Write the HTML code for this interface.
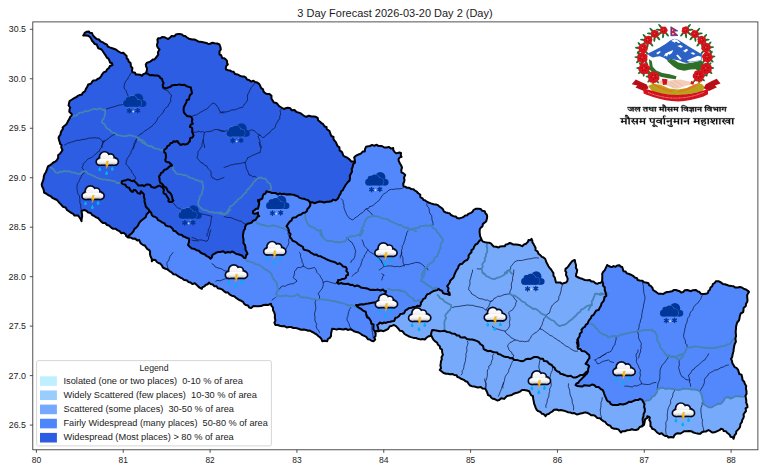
<!DOCTYPE html>
<html><head><meta charset="utf-8"><title>3 Day Forecast</title>
<style>
html,body{margin:0;padding:0;background:#fff;}
body{width:768px;height:473px;overflow:hidden;font-family:"Liberation Sans",sans-serif;}
svg{display:block;}
text{font-family:"Liberation Sans",sans-serif;fill:#1a1a1a;}
</style></head><body>
<svg width="768" height="473" viewBox="0 0 768 473">
<rect width="768" height="473" fill="#fff"/>
<clipPath id="nepal"><path d="M59.0,140.0 L58.6,137.5 L59.5,135.8 L60.5,134.5 L60.8,132.5 L61.5,130.8 L62.9,129.0 L62.6,127.4 L64.5,125.8 L66.2,124.5 L67.1,123.1 L68.2,120.8 L69.4,118.9 L70.2,116.8 L71.5,115.8 L71.7,113.9 L69.3,111.8 L69.5,109.5 L70.2,107.5 L68.6,105.5 L69.0,103.2 L69.6,101.0 L72.0,99.5 L74.2,98.1 L76.5,97.0 L77.9,95.8 L79.9,94.9 L82.0,94.5 L82.7,92.8 L85.1,91.2 L85.8,89.0 L87.1,87.1 L88.2,84.5 L90.9,83.8 L92.0,82.0 L93.3,80.4 L96.0,80.3 L97.5,79.0 L99.5,78.1 L101.1,76.3 L102.0,74.5 L103.5,72.5 L106.1,71.4 L107.0,69.5 L108.9,68.0 L109.9,66.0 L112.5,65.0 L112.0,63.3 L110.0,62.5 L109.5,60.8 L108.5,58.7 L106.8,57.6 L105.8,55.8 L104.4,53.6 L103.3,52.0 L102.0,50.0 L100.8,49.1 L98.3,48.2 L97.5,46.5 L96.7,44.4 L94.8,44.0 L93.1,41.9 L92.0,40.8 L91.1,38.7 L90.2,37.2 L88.2,35.8 L85.3,35.6 L83.2,35.5 L84.1,34.2 L84.8,32.8 L86.8,31.7 L89.0,31.5 L89.7,32.8 L92.0,33.0 L93.0,35.5 L94.5,37.0 L96.6,39.0 L99.0,39.5 L100.5,41.3 L102.5,42.2 L104.5,43.5 L107.0,44.6 L107.8,46.5 L109.7,47.4 L112.2,48.2 L114.5,49.0 L116.2,49.7 L117.9,51.1 L119.5,52.0 L121.2,53.0 L123.3,52.7 L125.0,54.5 L126.6,55.9 L126.7,58.4 L128.2,59.5 L128.7,61.7 L130.5,62.9 L130.8,64.5 L130.8,66.3 L132.4,68.0 L132.0,70.8 L132.7,72.2 L135.1,72.8 L135.8,74.5 L137.5,74.5 L140.1,74.7 L142.0,75.8 L143.3,74.1 L145.8,73.2 L146.8,70.9 L147.0,68.2 L146.1,66.5 L145.8,64.5 L147.0,62.6 L149.5,62.0 L150.8,61.2 L152.8,59.5 L154.5,59.5 L155.6,58.1 L157.3,56.0 L158.2,54.5 L157.9,52.2 L159.5,49.5 L158.0,47.9 L157.2,46.3 L157.0,44.5 L157.8,42.4 L157.4,39.8 L158.2,38.2 L160.3,38.2 L162.0,37.0 L164.4,37.2 L166.3,38.2 L168.2,39.0 L170.1,37.5 L171.4,36.1 L174.6,36.2 L175.8,34.5 L178.2,34.1 L180.3,34.1 L182.0,34.5 L183.4,35.9 L185.2,35.9 L187.0,37.5 L188.9,38.7 L192.3,39.5 L194.5,39.5 L196.0,40.2 L198.5,41.6 L200.0,41.7 L202.0,42.0 L204.0,42.4 L206.5,42.9 L208.2,44.0 L210.0,43.7 L212.5,42.7 L214.5,43.2 L217.1,43.5 L219.5,44.5 L220.5,47.3 L220.8,49.5 L219.5,51.4 L219.5,54.5 L221.2,55.2 L222.1,57.9 L224.0,58.2 L225.5,59.1 L227.0,60.8 L227.1,63.0 L227.8,64.5 L226.4,65.8 L225.8,67.8 L226.0,69.5 L228.3,70.3 L230.0,70.4 L231.5,71.5 L233.6,71.7 L235.1,74.1 L237.8,74.5 L239.8,75.7 L241.6,76.4 L244.0,76.5 L245.7,77.3 L247.0,79.5 L249.0,80.0 L251.2,81.6 L253.4,80.7 L255.2,82.0 L257.0,82.4 L259.3,84.1 L260.2,85.8 L261.2,88.2 L263.1,89.4 L263.5,91.6 L265.2,93.2 L267.0,94.1 L269.5,94.1 L271.5,95.8 L271.4,98.5 L272.8,100.8 L273.9,102.6 L276.6,103.1 L277.8,104.5 L279.1,106.2 L281.4,107.5 L284.0,109.0 L286.4,108.0 L287.8,107.7 L290.2,108.2 L291.8,110.3 L294.5,110.0 L296.5,112.0 L298.8,112.6 L300.9,113.4 L302.6,114.8 L304.0,115.8 L306.2,116.8 L309.0,115.8 L311.5,116.5 L313.9,116.4 L315.5,116.7 L317.8,118.2 L318.1,120.3 L320.1,121.7 L321.5,123.2 L323.0,124.0 L324.7,126.6 L326.5,127.0 L326.8,129.2 L329.5,131.0 L330.2,133.2 L331.2,135.8 L333.5,137.0 L333.4,138.7 L334.0,140.0 L335.6,141.8 L336.5,143.6 L337.5,146.0 L339.4,147.3 L339.6,150.3 L341.8,151.8 L342.7,153.7 L343.2,155.5 L345.0,156.8 L346.7,157.4 L348.8,158.8 L350.0,160.0 L351.2,161.4 L353.5,161.4 L355.0,162.5 L354.8,159.9 L354.2,157.5 L355.3,156.3 L357.0,155.1 L359.2,154.2 L360.8,153.6 L362.7,151.6 L364.8,151.5 L365.1,148.8 L366.0,146.8 L368.3,146.3 L370.0,146.0 L372.1,144.9 L374.2,145.8 L376.8,144.8 L378.7,146.1 L381.8,146.0 L383.7,147.1 L384.7,147.5 L386.8,147.5 L389.0,146.9 L390.8,148.6 L393.2,148.0 L393.3,150.2 L395.0,152.5 L396.5,153.4 L399.4,152.5 L401.0,153.0 L400.7,155.3 L401.5,156.8 L399.4,157.7 L398.5,159.2 L398.8,161.2 L400.0,163.5 L401.0,165.2 L402.0,167.5 L401.3,170.1 L401.5,172.5 L403.3,173.1 L405.2,175.0 L404.0,177.7 L404.5,180.0 L404.1,182.0 L403.2,183.8 L403.5,186.0 L405.2,186.6 L407.0,187.8 L408.8,187.7 L411.2,189.0 L413.5,189.2 L414.8,190.5 L416.8,191.7 L418.5,193.5 L420.2,194.5 L420.4,197.1 L422.5,198.3 L423.5,200.0 L425.0,200.2 L426.8,201.7 L428.5,202.5 L430.9,203.4 L433.6,204.2 L436.0,204.5 L437.9,205.1 L439.1,206.3 L441.0,207.5 L442.8,209.1 L444.1,211.7 L446.0,212.5 L448.0,213.0 L449.4,213.2 L451.0,215.0 L453.4,216.2 L455.7,216.5 L457.2,218.0 L459.3,218.4 L461.8,217.6 L463.5,217.0 L465.2,215.6 L467.2,215.2 L468.5,213.8 L470.9,212.8 L472.4,211.9 L473.5,210.0 L475.6,208.8 L478.5,208.8 L480.8,209.1 L482.1,210.7 L484.8,211.2 L485.4,213.3 L486.7,214.5 L487.2,216.2 L486.9,218.8 L486.2,221.2 L484.8,222.5 L483.0,223.9 L482.4,226.4 L481.0,227.5 L479.8,229.1 L479.6,231.9 L479.8,233.8 L480.1,236.1 L481.1,238.3 L481.5,240.0 L483.0,241.6 L485.0,242.2 L487.2,242.5 L489.1,242.7 L491.2,243.7 L492.2,245.0 L493.7,246.5 L496.3,246.8 L498.5,247.5 L500.3,246.4 L502.8,246.2 L504.8,246.2 L505.7,244.5 L507.6,244.2 L509.8,243.0 L511.9,243.8 L513.5,244.6 L516.0,244.5 L518.2,244.7 L520.4,245.3 L522.2,246.2 L524.0,244.5 L526.0,243.8 L527.9,241.9 L528.5,240.0 L530.4,240.2 L531.5,238.8 L532.3,240.7 L532.4,242.3 L533.5,243.8 L534.3,245.6 L535.6,248.0 L535.5,250.0 L537.7,251.6 L538.5,253.8 L540.5,255.3 L541.9,256.9 L543.5,257.5 L545.3,259.0 L546.0,261.2 L546.6,262.8 L547.6,264.5 L548.5,266.2 L549.4,267.6 L551.1,269.5 L552.2,271.2 L553.4,273.1 L553.5,275.8 L554.8,277.5 L555.4,280.1 L556.0,282.5 L557.9,282.6 L560.1,282.4 L562.2,283.8 L564.3,282.9 L565.9,282.6 L567.2,281.2 L567.7,279.0 L567.1,277.0 L566.0,275.0 L566.3,272.4 L565.3,271.2 L565.5,268.8 L567.2,267.7 L568.5,266.2 L569.3,264.8 L570.8,262.8 L572.2,261.2 L573.7,260.3 L574.8,260.0 L575.3,262.8 L576.0,265.0 L575.9,267.9 L577.2,270.0 L576.8,272.3 L576.1,274.3 L576.0,276.2 L577.9,277.3 L580.2,278.2 L582.2,278.8 L584.9,280.0 L587.4,280.3 L589.8,280.0 L591.4,281.5 L593.4,281.5 L595.5,283.3 L597.2,283.8 L598.7,283.1 L600.9,282.7 L602.2,281.2 L602.2,279.2 L602.3,276.0 L602.2,273.8 L603.3,271.7 L604.8,270.1 L606.0,267.5 L606.8,265.9 L607.2,265.0 L608.7,266.0 L610.5,266.7 L612.2,267.0 L613.5,266.1 L615.6,266.8 L617.2,265.5 L619.4,265.3 L620.5,266.5 L622.2,267.0 L622.9,269.3 L623.5,271.2 L625.6,271.6 L626.9,273.4 L628.5,273.8 L630.9,274.7 L633.0,275.8 L634.8,277.5 L637.0,278.1 L637.6,280.0 L639.8,280.5 L642.4,280.8 L644.1,282.3 L646.0,282.5 L648.5,283.3 L649.1,285.1 L651.0,286.2 L652.5,288.0 L652.9,289.7 L654.8,291.2 L656.4,292.2 L658.5,293.7 L661.0,293.8 L663.5,293.9 L665.0,292.8 L667.2,292.0 L669.4,291.7 L672.2,291.2 L674.1,289.9 L676.0,290.0 L678.0,290.7 L679.7,291.3 L681.0,292.5 L683.1,292.1 L684.8,290.2 L687.2,290.0 L688.8,290.5 L691.0,291.2 L692.9,290.2 L696.0,290.0 L697.9,291.6 L699.3,291.8 L701.0,293.8 L703.8,294.1 L706.0,293.8 L707.9,293.0 L708.5,290.8 L709.8,290.0 L710.5,287.6 L712.2,286.2 L712.8,284.2 L714.7,283.0 L716.0,281.2 L718.4,281.2 L721.0,282.5 L722.8,283.9 L724.9,284.2 L727.2,285.0 L729.1,285.8 L731.8,286.1 L733.5,286.2 L735.0,287.4 L737.9,287.4 L739.8,287.0 L741.9,287.5 L744.2,289.0 L746.0,289.5 L747.9,290.8 L749.0,292.0 L748.0,293.4 L747.2,295.0 L747.2,297.5 L747.5,299.9 L747.3,301.7 L746.0,303.8 L745.8,306.1 L743.6,308.0 L743.5,310.0 L743.2,312.2 L740.7,313.5 L739.8,316.2 L739.5,318.2 L739.0,320.3 L737.2,322.5 L736.5,324.8 L736.0,326.9 L736.0,328.8 L735.7,331.1 L735.8,334.2 L736.0,336.2 L735.4,338.5 L735.9,341.8 L734.8,343.8 L734.2,346.1 L733.7,348.8 L733.5,351.2 L733.0,352.7 L732.5,355.0 L732.1,357.4 L731.0,358.8 L732.0,360.9 L732.4,363.3 L733.5,365.0 L734.6,367.0 L736.7,368.2 L738.0,369.6 L738.5,371.2 L739.3,374.0 L741.5,374.6 L742.2,377.5 L742.5,379.8 L744.3,382.0 L744.8,383.8 L746.2,386.1 L745.9,388.4 L746.5,391.2 L746.5,394.0 L745.5,395.8 L746.0,398.8 L746.3,400.5 L746.2,402.6 L747.2,405.0 L747.5,407.1 L745.6,408.4 L746.0,411.1 L744.8,412.5 L743.5,414.5 L743.9,416.3 L743.3,418.3 L742.2,420.0 L742.0,421.8 L740.4,424.0 L740.3,425.2 L739.8,427.5 L738.3,429.4 L736.3,431.4 L736.0,433.8 L734.5,435.3 L734.1,437.4 L733.5,438.8 L732.8,437.2 L730.6,436.8 L729.8,435.0 L728.8,434.0 L727.0,432.7 L726.0,431.2 L723.7,431.1 L723.0,429.4 L721.0,428.8 L719.5,430.2 L717.2,431.2 L714.6,432.3 L712.2,432.5 L710.4,431.2 L708.5,430.0 L706.2,431.4 L704.6,431.6 L702.2,432.0 L700.3,433.8 L698.5,433.8 L695.6,433.1 L693.5,432.5 L691.1,431.2 L689.1,431.0 L687.2,431.2 L684.3,431.2 L682.2,432.5 L680.3,433.6 L677.6,433.3 L676.0,433.8 L674.2,435.5 L673.5,437.5 L671.1,437.0 L668.5,437.5 L667.1,435.9 L665.1,436.0 L663.5,435.0 L661.7,433.3 L659.4,434.0 L657.2,432.5 L655.7,430.9 L654.6,429.6 L652.2,428.8 L651.4,426.9 L650.4,426.1 L650.5,423.8 L650.4,421.9 L649.3,419.9 L649.8,417.5 L648.6,416.6 L647.2,416.2 L647.3,417.9 L644.9,419.4 L644.8,421.2 L644.3,423.5 L644.0,424.9 L642.2,426.2 L639.7,427.0 L638.0,429.3 L636.0,430.0 L633.6,429.8 L631.9,429.3 L629.8,430.0 L627.1,430.3 L624.8,431.2 L622.3,431.2 L621.0,432.5 L619.4,430.7 L618.4,429.4 L616.0,428.8 L614.2,428.8 L611.7,427.9 L610.3,425.8 L608.0,425.0 L606.5,423.8 L605.1,421.8 L603.8,421.4 L601.8,420.0 L600.0,418.2 L597.4,418.1 L595.5,416.2 L594.0,415.3 L591.2,415.3 L589.2,413.8 L587.0,412.7 L585.1,412.4 L583.0,413.0 L580.8,413.4 L578.8,414.0 L576.8,414.5 L574.4,413.1 L572.4,413.3 L570.5,412.5 L568.1,412.2 L565.4,411.1 L563.0,410.5 L560.5,410.0 L558.6,410.4 L556.8,409.5 L554.1,409.7 L552.6,411.3 L550.5,412.5 L548.6,414.1 L546.6,414.5 L545.5,416.2 L543.7,414.1 L541.8,413.8 L540.6,412.0 L538.2,411.1 L536.8,410.0 L535.6,407.8 L535.1,406.0 L534.2,403.8 L533.8,401.6 L533.2,398.9 L533.0,396.2 L531.2,395.4 L529.9,392.9 L529.2,391.2 L527.0,390.5 L524.2,390.0 L522.0,389.9 L519.9,391.7 L518.0,392.5 L515.8,393.0 L513.7,393.7 L511.8,395.0 L509.5,395.5 L507.1,395.9 L505.5,397.5 L504.0,398.9 L501.2,398.2 L499.2,400.0 L497.2,400.5 L494.7,399.1 L493.0,398.8 L491.0,397.5 L490.4,396.0 L488.0,395.0 L487.2,392.4 L486.4,390.8 L485.5,388.8 L482.5,388.6 L481.0,387.1 L478.0,387.5 L476.0,387.0 L474.3,386.4 L471.8,386.2 L470.1,385.5 L468.4,383.6 L467.3,381.8 L465.5,381.2 L463.9,379.9 L461.1,378.8 L459.2,377.5 L457.4,377.0 L456.6,375.3 L454.2,375.0 L452.7,374.0 L449.7,374.3 L448.0,373.8 L446.0,373.8 L443.6,373.0 L441.4,371.2 L439.8,370.0 L441.0,368.1 L440.4,365.3 L440.7,363.7 L441.0,361.2 L441.8,359.3 L441.5,357.3 L442.9,354.7 L442.2,352.5 L442.0,349.7 L440.2,348.5 L439.8,346.2 L437.8,344.5 L437.1,342.6 L434.8,341.2 L433.0,339.2 L432.3,337.5 L431.0,335.0 L430.0,336.2 L428.5,336.2 L426.2,338.0 L424.8,339.5 L422.5,339.0 L420.3,339.4 L417.9,338.8 L416.0,338.0 L413.7,337.9 L411.0,337.1 L408.5,336.2 L406.6,335.2 L404.5,334.0 L403.5,332.5 L402.0,330.9 L399.8,330.8 L398.5,328.8 L396.9,327.1 L395.2,325.6 L393.5,325.0 L391.7,326.0 L389.8,326.2 L389.0,327.5 L387.9,329.1 L386.0,330.0 L383.6,331.2 L380.9,330.5 L378.5,331.2 L376.9,330.9 L374.8,331.2 L375.7,333.7 L375.5,336.2 L374.2,337.6 L375.2,339.5 L373.5,341.2 L371.4,340.7 L369.8,339.5 L367.9,339.2 L366.2,336.8 L364.8,336.2 L362.4,335.2 L361.0,334.0 L358.5,332.5 L356.6,332.1 L353.9,331.2 L352.2,330.0 L350.7,329.3 L347.7,329.9 L346.0,328.8 L343.7,329.5 L341.4,329.2 L338.5,328.8 L336.8,329.6 L333.9,328.9 L332.2,328.8 L331.6,331.0 L331.1,333.5 L331.0,336.2 L329.8,337.8 L327.9,339.0 L327.2,341.2 L324.6,340.7 L322.2,341.2 L321.5,339.1 L320.4,337.6 L318.5,336.2 L316.9,334.7 L315.1,333.7 L313.5,332.5 L311.7,331.8 L309.9,330.5 L308.3,330.7 L306.0,330.0 L303.8,329.6 L301.0,329.7 L298.5,328.8 L296.3,328.1 L293.4,328.0 L291.0,327.0 L288.9,326.9 L286.7,327.4 L284.4,326.1 L282.2,326.2 L279.7,325.7 L277.7,325.0 L275.5,325.0 L274.4,322.8 L275.4,320.3 L274.8,317.5 L275.0,315.2 L274.3,312.6 L273.0,310.0 L272.9,307.4 L271.3,305.6 L271.0,303.8 L268.3,304.9 L266.1,304.8 L263.5,305.0 L261.0,306.1 L258.4,306.3 L256.0,306.2 L253.5,306.1 L251.2,308.1 L249.2,307.5 L248.0,305.5 L245.7,305.1 L244.2,303.8 L243.1,301.9 L241.2,300.8 L239.2,300.0 L237.2,298.6 L235.7,297.6 L234.2,296.2 L231.8,295.7 L229.5,294.4 L228.0,292.5 L226.1,292.6 L224.2,291.4 L222.5,289.7 L220.5,288.8 L217.8,288.2 L216.5,286.3 L214.2,286.2 L212.7,284.4 L210.4,284.0 L209.2,282.5 L207.6,284.2 L205.5,285.0 L204.7,286.2 L202.3,287.4 L201.8,288.8 L199.6,287.6 L198.1,286.4 L196.8,285.0 L194.8,283.2 L192.3,284.1 L190.5,282.5 L188.5,282.0 L186.6,280.3 L184.2,280.0 L182.3,278.4 L180.5,277.7 L178.0,276.2 L175.8,274.5 L173.4,274.2 L171.8,272.5 L169.8,271.3 L167.4,269.4 L165.5,268.8 L162.9,267.5 L161.8,265.3 L160.5,263.8 L158.3,262.9 L156.8,262.0 L155.5,260.0 L153.2,259.8 L151.8,261.2 L151.7,258.7 L150.5,256.2 L150.0,254.2 L150.1,251.8 L149.2,250.0 L147.4,249.2 L146.1,247.4 L144.8,245.4 L143.0,245.0 L141.3,243.8 L140.2,242.5 L139.2,240.0 L137.3,240.4 L135.0,238.6 L133.0,238.8 L130.8,237.6 L128.0,237.5 L126.1,236.0 L125.8,234.5 L123.6,232.7 L121.2,233.2 L119.5,231.2 L117.3,230.1 L115.6,228.8 L113.2,228.8 L111.5,227.9 L109.0,225.5 L107.0,225.0 L105.2,223.0 L102.9,222.9 L100.8,221.2 L99.2,219.3 L98.4,218.3 L96.2,217.4 L94.5,216.2 L92.1,215.0 L90.6,212.9 L88.2,212.5 L86.4,210.8 L84.5,210.0 L82.9,210.4 L81.5,211.2 L82.0,214.0 L82.2,216.4 L81.7,218.8 L81.5,221.2 L80.7,219.3 L79.5,217.5 L78.1,215.6 L74.5,215.6 L73.2,213.8 L71.2,212.9 L68.9,211.3 L67.0,210.0 L65.6,207.5 L63.1,206.9 L61.5,205.0 L59.9,203.4 L58.6,202.0 L57.0,200.0 L54.9,199.0 L52.3,197.8 L50.8,196.2 L48.7,195.4 L46.0,193.5 L44.0,192.5 L43.8,190.1 L43.1,188.3 L42.0,186.2 L41.7,184.3 L42.5,182.2 L43.2,180.0 L43.7,178.4 L43.8,176.3 L44.7,173.9 L45.8,172.5 L46.5,170.7 L47.4,168.0 L48.2,166.2 L50.2,165.1 L52.0,163.8 L53.3,162.5 L55.2,161.7 L57.0,160.0 L58.1,158.0 L58.2,155.0 L60.0,153.7 L61.4,151.8 L62.5,150.0 L61.3,147.6 L61.5,145.0 L60.1,143.9 L59.7,141.9Z"/></clipPath>
<g clip-path="url(#nepal)">
<rect x="30" y="20" width="730" height="430" fill="#5288fb"/>
<path d="M128.2,236.2 L130.1,234.5 L131.9,233.2 L133.4,231.4 L134.5,228.8 L136.2,227.7 L138.0,225.6 L138.8,223.5 L140.2,221.6 L142.0,220.0 L143.7,218.8 L145.8,217.0 L146.6,214.3 L148.0,213.1 L149.6,211.2 L151.2,212.8 L151.8,215.1 L153.0,216.2 L155.0,216.9 L156.9,218.0 L158.1,220.2 L160.5,221.2 L162.1,222.4 L164.4,223.4 L165.9,225.6 L168.0,226.2 L170.2,226.6 L172.4,228.4 L173.5,230.7 L175.5,231.2 L177.2,233.1 L179.0,234.6 L181.7,234.8 L183.0,236.2 L185.3,237.1 L187.1,238.0 L189.2,238.8 L189.1,240.8 L188.8,242.6 L188.0,245.0 L190.0,246.9 L191.8,248.4 L194.2,248.8 L196.5,250.2 L198.9,250.7 L200.5,252.5 L202.4,253.5 L205.0,254.5 L206.8,256.2 L208.9,257.1 L210.5,258.8 L211.9,257.3 L212.4,255.0 L214.2,253.8 L216.0,252.8 L218.1,252.1 L220.5,252.0 L223.1,251.2 L225.4,252.9 L228.0,252.0 L230.5,252.6 L231.9,251.4 L234.2,252.5 L236.4,254.0 L238.0,254.3 L240.5,255.0 L242.6,256.0 L243.7,257.8 L245.5,258.0 L246.1,255.3 L247.5,253.8 L246.5,251.5 L245.4,249.4 L245.5,247.5 L245.0,245.2 L243.6,243.4 L243.5,241.2 L243.5,239.1 L242.9,236.9 L243.0,235.0 L243.3,233.0 L243.8,230.5 L245.0,228.8 L245.1,227.0 L246.0,224.9 L247.5,223.8 L249.7,223.2 L251.8,222.5 L253.1,220.6 L255.5,220.0 L256.3,218.8 L257.7,216.5 L259.2,216.2 L258.0,214.8 L258.0,212.5 L256.2,213.6 L254.2,213.8 L252.9,212.9 L253.0,211.2 L254.8,210.0 L255.8,208.8 L258.0,208.8 L258.7,205.8 L259.2,203.8 L258.7,201.9 L258.0,200.0 L258.1,201.2 L259.0,202.5 L259.5,200.0 L262.3,198.5 L262.8,196.2 L263.7,194.2 L265.6,193.5 L266.5,191.2 L268.0,191.9 L269.8,191.9 L271.5,193.0 L273.6,192.9 L275.8,193.1 L277.8,194.5 L280.0,193.4 L281.5,194.2 L284.0,193.8 L286.2,194.5 L289.1,194.2 L291.5,194.5 L293.5,194.7 L295.4,195.5 L297.8,196.2 L299.2,197.6 L301.4,198.4 L304.0,198.8 L306.2,199.6 L308.3,200.3 L310.2,202.5 L312.3,202.2 L314.9,203.2 L316.5,202.5 L319.0,201.6 L321.8,201.8 L324.0,202.5 L326.8,201.7 L328.7,201.8 L331.5,201.2 L333.0,199.6 L335.6,200.4 L337.8,198.8 L338.6,197.2 L339.5,195.0 L340.5,193.8 L341.1,191.6 L343.0,190.0 L343.5,188.5 L344.8,186.5 L345.6,185.0 L346.8,183.5 L348.2,181.7 L349.4,180.9 L350.0,178.5 L349.8,175.8 L351.0,173.5 L352.1,171.6 L351.7,169.0 L352.5,167.5 L352.8,166.0 L353.2,164.2 L355.0,162.5 L354.0,0.0 L0.0,0.0 L0.0,262.0 L120.0,262.0Z" fill="#2c5de2"/>
<path d="M481.5,240.0 L479.8,240.3 L478.6,241.9 L477.2,243.8 L475.5,244.5 L474.1,246.8 L473.5,248.8 L471.4,250.4 L471.5,252.3 L469.8,253.8 L468.6,255.5 L468.6,257.8 L467.2,260.0 L464.9,260.9 L463.8,261.9 L462.2,263.8 L459.9,264.3 L458.5,266.2 L458.1,268.1 L457.1,269.3 L456.0,271.2 L455.1,273.2 L454.1,275.7 L453.5,277.5 L452.1,278.9 L450.2,280.8 L449.8,282.5 L448.3,284.7 L447.2,286.2 L448.5,288.3 L448.0,291.2 L449.6,293.2 L449.8,295.0 L447.1,294.0 L444.8,293.8 L442.8,292.8 L442.2,290.9 L439.8,290.0 L438.5,288.8 L437.3,290.1 L434.5,290.8 L432.9,291.4 L431.0,292.5 L429.6,293.6 L427.3,294.2 L426.0,296.2 L425.3,298.1 L423.1,299.1 L422.2,301.2 L420.8,302.4 L420.9,304.3 L419.8,306.2 L417.3,305.8 L416.0,306.8 L413.5,307.0 L411.5,307.8 L408.7,308.2 L407.2,309.5 L405.4,310.4 L404.2,313.2 L402.2,313.8 L400.3,314.1 L398.9,316.2 L397.2,317.5 L395.4,317.8 L394.2,320.9 L392.2,321.2 L390.2,321.7 L387.9,321.9 L386.0,323.0 L384.2,322.5 L382.2,323.5 L379.8,322.5 L378.6,324.1 L377.2,325.0 L378.1,327.3 L378.5,330.0 L378.5,470.0 L642.0,470.0 L642.2,426.2 L643.2,424.0 L642.8,421.7 L642.6,418.8 L643.5,416.2 L643.6,414.0 L644.8,411.7 L644.8,408.8 L644.1,406.8 L644.5,404.1 L643.5,402.5 L642.1,399.8 L640.0,398.8 L637.9,400.1 L635.5,400.0 L633.0,401.2 L631.2,402.0 L629.2,401.7 L627.3,403.0 L625.5,403.8 L623.0,404.5 L620.1,404.0 L618.0,405.0 L615.6,404.9 L612.5,404.9 L610.5,403.8 L609.8,402.0 L607.7,401.3 L606.8,400.0 L606.0,398.2 L605.0,395.9 L604.2,393.8 L603.6,391.9 L602.8,390.2 L600.5,388.8 L598.5,386.9 L596.2,387.0 L594.2,385.0 L591.9,384.6 L589.4,385.8 L586.8,385.5 L584.0,385.3 L582.2,386.6 L579.2,386.2 L577.5,386.0 L575.5,385.0 L576.6,383.4 L578.5,382.7 L579.2,381.2 L581.0,379.6 L582.6,377.9 L584.2,376.2 L585.9,374.5 L587.1,373.4 L588.0,371.2 L588.0,371.2 L588.2,368.5 L589.2,366.2 L587.7,364.7 L585.5,363.8 L587.0,362.0 L588.0,360.0 L589.5,358.0 L589.2,355.0 L587.3,353.7 L586.4,352.5 L584.2,351.2 L581.7,351.1 L580.5,349.0 L578.0,348.8 L577.5,346.7 L577.8,344.6 L576.8,342.5 L577.6,341.7 L578.0,340.0 L578.2,342.2 L578.4,343.7 L578.5,346.2 L577.3,344.1 L578.0,342.3 L577.2,340.0 L578.2,338.4 L579.6,336.4 L579.8,333.8 L581.8,332.0 L581.5,329.6 L583.5,327.5 L585.1,326.6 L585.7,324.8 L587.6,323.6 L588.5,321.2 L589.7,319.4 L590.7,318.4 L591.7,315.8 L593.5,315.0 L594.7,312.9 L596.3,310.5 L598.6,310.1 L599.8,307.5 L600.9,305.9 L601.5,303.4 L603.5,301.2 L604.2,299.2 L604.4,297.1 L606.3,295.8 L606.0,293.8 L605.2,291.4 L604.7,289.9 L604.8,287.5 L603.0,285.6 L603.2,283.6 L602.2,281.2 L596.0,262.0 L500.0,200.0 L490.0,232.0Z" fill="#78aafc"/>
<path d="M643.5,402.5 L645.6,401.7 L647.3,400.6 L649.3,399.4 L651.0,398.8 L652.3,397.1 L654.0,395.3 L656.0,393.8 L656.4,391.3 L657.2,388.8 L659.2,388.0 L661.4,388.0 L663.5,388.0 L665.8,387.9 L668.6,388.1 L671.0,388.8 L673.7,389.1 L675.9,389.9 L678.5,390.0 L681.1,389.1 L683.5,389.5 L686.0,388.8 L688.4,389.2 L691.1,389.8 L693.5,389.5 L695.8,390.5 L697.8,390.4 L699.8,391.2 L700.4,393.6 L701.5,395.2 L702.2,397.5 L702.5,399.4 L702.8,401.4 L703.5,403.8 L705.6,404.9 L707.9,405.9 L709.8,407.5 L711.8,406.7 L714.3,406.2 L716.0,405.0 L718.1,404.7 L719.9,402.8 L722.2,402.5 L723.2,400.5 L724.4,399.2 L726.0,397.5 L728.0,397.4 L730.1,398.1 L732.2,398.0 L734.4,397.2 L736.1,396.4 L738.5,396.2 L741.2,396.2 L743.2,395.3 L746.0,395.5 L770.0,395.0 L770.0,470.0 L636.0,470.0Z" fill="#78aafc"/>
</g>
<g clip-path="url(#nepal)" fill="none" stroke-linejoin="round" stroke-linecap="round">
<g stroke="#0a1438" stroke-opacity="0.85" stroke-width="0.85">
<path d="M299.5,252.5 L300.6,254.2 L300.5,256.5 L301.1,258.2 L302.0,260.0 L302.0,262.2 L303.4,264.0 L303.2,266.2 L300.6,267.5 L298.2,267.5 L296.7,268.3 L295.8,270.3 L294.5,271.2 L294.5,273.2 L294.1,275.4 L293.2,277.5 L294.6,279.1 L296.2,279.9 L297.0,281.2 L294.9,282.6 L293.2,283.8 L291.3,283.7 L289.3,284.3 L287.0,285.0 L285.2,286.3 L282.7,286.0 L280.8,287.0 L279.7,288.9 L278.2,290.0"/>
<path d="M303.2,266.2 L305.1,267.1 L307.4,268.6 L309.5,268.8 L312.1,268.1 L314.5,267.5 L315.6,268.8 L316.5,270.8 L317.0,272.5 L318.7,274.2 L319.8,275.3 L320.8,277.5 L322.1,279.1 L322.6,280.7 L323.2,282.5 L325.1,281.6 L327.0,281.2 L328.7,281.7 L330.8,282.5 L333.1,283.0 L335.8,283.8"/>
<path d="M323.2,282.5 L323.3,284.7 L322.8,286.9 L322.0,288.8 L320.7,290.3 L319.4,292.0 L318.2,293.8 L319.5,296.1 L319.5,298.8"/>
<path d="M315.8,300.0 L315.1,302.5 L315.5,305.2 L315.8,307.5 L315.7,309.8 L314.8,312.2 L314.5,315.0 L315.1,317.7 L314.8,319.8 L315.8,322.5 L316.7,324.3 L316.1,326.4 L317.0,328.8 L318.4,330.2 L319.5,332.5"/>
<path d="M350.8,307.5 L349.3,309.6 L348.9,311.4 L348.2,313.8 L348.0,316.0 L347.1,317.5 L347.0,320.0 L348.3,322.2 L349.2,324.1 L349.5,326.2 L351.0,328.1 L352.0,330.0"/>
<path d="M365.8,311.2 L366.1,313.0 L367.2,315.0 L368.2,316.2 L369.4,318.0 L370.0,319.3 L370.8,321.2 L371.3,323.6 L371.8,325.7 L371.8,327.6 L372.0,330.0 L372.5,332.4 L372.9,335.2 L373.2,337.5"/>
<path d="M272.0,300.0 L274.2,298.6 L275.8,297.0"/>
<path d="M212.0,263.8 L213.9,264.8 L215.0,266.8 L217.0,267.5 L219.0,268.3 L221.6,268.8 L223.2,270.0 L224.9,270.9 L227.0,271.2"/>
<path d="M215.8,281.2 L217.9,280.3 L219.9,280.9 L222.0,280.0 L223.8,279.3 L225.9,278.7 L228.2,278.8"/>
<path d="M362.0,240.0 L363.1,242.0 L363.5,243.9 L364.5,246.2 L366.0,247.7 L367.0,248.8 L368.2,250.0 L366.7,251.4 L365.9,253.7 L364.5,255.0 L364.0,257.5 L362.4,259.0 L362.0,261.2 L361.3,263.1 L360.7,265.7 L359.5,267.5 L358.4,269.1 L358.2,271.2 L357.0,272.5 L354.8,273.4 L353.6,274.8 L352.0,276.2"/>
<path d="M368.2,250.0 L369.5,251.7 L371.2,252.7 L373.2,253.8 L374.8,254.9 L376.3,256.1 L378.2,257.5 L379.5,259.0 L381.4,260.6 L382.0,262.5"/>
<path d="M347.0,237.5 L348.2,239.3 L349.9,241.2 L352.0,242.5 L353.1,244.7 L354.2,246.5 L354.8,248.9 L355.8,251.2 L355.1,253.2 L355.1,255.3 L354.5,257.5 L353.5,259.5 L351.6,260.4 L350.8,262.5"/>
<path d="M192.0,237.5 L194.0,238.1 L195.8,238.9 L197.6,239.9 L199.5,240.0 L201.9,240.0 L204.4,240.8 L207.0,241.2 L208.4,239.3 L208.6,237.2 L209.5,235.0 L209.8,232.3 L210.8,230.0"/>
<path d="M287.0,230.0 L288.3,231.9 L287.9,233.5 L288.8,235.5 L289.5,237.5 L288.6,240.1 L288.9,242.6 L288.2,245.0 L287.1,247.0 L285.9,249.2 L284.5,251.2"/>
<path d="M472.5,270.0 L472.5,271.9 L471.5,274.0 L471.2,276.2 L470.7,278.1 L469.8,280.4 L470.0,282.5 L469.9,284.8 L468.7,287.7 L468.8,290.0 L470.4,291.3 L471.8,294.0 L473.8,295.0 L475.6,296.1 L478.0,297.9 L480.0,298.8 L482.5,298.9 L485.1,300.1 L487.5,300.0 L489.3,301.2 L491.2,301.2"/>
<path d="M491.2,301.2 L493.0,300.5 L493.9,298.5 L496.3,297.6 L497.5,296.2 L500.3,296.3 L502.7,295.2 L505.0,294.5 L507.5,294.1 L510.0,293.8 L509.8,291.8 L511.1,289.2 L511.6,287.1 L511.2,285.0 L511.7,282.7 L512.6,280.1 L512.5,277.5 L513.4,274.9 L513.7,272.5 L513.8,270.0"/>
<path d="M491.2,301.2 L490.0,302.8 L489.5,304.2 L488.8,306.2 L487.3,308.1 L486.2,310.0"/>
<path d="M452.5,307.5 L454.7,306.8 L457.3,306.6 L460.0,306.2 L462.2,305.8 L465.0,305.4 L467.5,305.0 L470.2,305.3 L472.9,305.3 L475.0,306.2 L476.9,306.5 L479.1,306.9 L481.2,307.5 L483.3,307.8 L484.6,309.4 L486.2,310.0"/>
<path d="M510.0,293.8 L510.9,295.0 L512.8,295.8 L513.8,297.5 L515.0,299.5 L517.0,301.2 L515.8,302.8 L515.6,304.6 L515.0,306.2 L513.7,308.1 L512.5,310.0 L510.3,311.0 L508.8,312.5 L509.1,314.7 L509.9,317.2 L510.0,320.0 L509.3,322.3 L509.8,324.3 L509.5,326.2 L508.3,328.5 L506.8,330.1 L505.0,331.2 L502.3,330.4 L500.0,330.0 L497.6,329.0 L495.0,328.8 L493.5,328.0 L492.5,326.2"/>
<path d="M505.0,331.2 L506.1,333.2 L508.1,334.9 L510.0,336.2 L511.3,338.0 L513.2,338.5 L515.0,340.0 L517.8,340.4 L519.7,341.4 L522.5,341.2 L524.4,341.7 L526.6,341.4 L528.8,341.2 L529.3,339.5 L530.7,337.9 L531.2,336.2 L532.6,335.0 L534.4,333.1 L536.2,332.5 L537.5,331.3 L538.5,330.1 L540.0,328.8"/>
<path d="M540.0,328.8 L540.8,326.9 L542.2,324.7 L542.5,322.5 L543.6,320.6 L543.8,318.8 L545.0,317.5 L545.9,315.8 L547.4,314.1 L549.3,313.1 L550.0,311.2 L550.5,309.3 L551.3,307.2 L552.5,305.0 L554.2,303.7 L555.4,302.2 L557.5,301.2 L558.8,299.2 L558.8,296.7 L560.0,295.0 L560.3,293.0 L561.2,290.8 L561.2,288.8 L561.8,286.9 L562.5,285.0"/>
<path d="M540.0,328.8 L542.4,329.6 L544.5,331.3 L546.2,332.5 L548.3,333.9 L550.0,335.4 L552.5,336.2 L554.1,337.8 L556.4,339.1 L558.0,340.4 L560.0,341.2 L561.1,342.6 L563.4,343.8 L564.5,345.2 L566.2,346.2 L568.4,347.1 L570.2,348.5 L572.5,350.0 L575.0,351.2 L577.5,351.2"/>
<path d="M515.0,340.0 L513.3,340.8 L511.5,342.0 L510.0,342.5 L508.4,344.4 L507.5,346.2 L508.5,348.1 L508.9,349.8 L510.0,351.2 L511.6,352.1 L512.1,354.2 L513.8,355.0 L513.2,357.0 L512.5,358.8"/>
<path d="M467.5,341.2 L468.0,343.2 L467.4,345.4 L466.6,347.5 L467.0,350.0 L466.6,352.1 L465.8,354.1 L466.1,356.5 L465.5,358.8 L465.5,360.7 L464.8,362.9 L464.1,365.0 L463.8,367.5 L463.4,369.4 L462.1,370.8 L462.3,373.5 L461.2,375.0"/>
<path d="M493.8,353.8 L492.5,355.8 L492.8,358.5 L491.9,360.5 L491.2,362.5 L491.0,364.5 L488.7,366.2 L489.0,368.4 L487.5,370.0 L487.3,372.3 L487.4,374.9 L487.0,377.4 L486.2,380.0 L485.5,381.8 L485.9,384.0 L485.8,386.3 L485.0,388.0"/>
<path d="M513.8,360.0 L512.4,361.5 L511.6,363.5 L510.7,365.4 L510.0,367.5 L508.9,369.4 L508.6,371.7 L507.6,373.3 L506.2,375.0 L505.2,376.8 L504.7,378.5 L504.5,380.4 L503.8,382.5 L503.5,384.1 L502.7,385.9 L503.0,388.0"/>
<path d="M540.0,360.0 L539.5,362.1 L539.2,364.3 L538.8,366.2 L539.0,368.3 L539.7,370.1 L539.5,372.5"/>
<path d="M552.5,367.5 L552.4,370.2 L551.2,372.5 L550.6,374.7 L550.0,377.5"/>
<path d="M132.0,72.5 L130.4,73.7 L129.6,75.6 L128.2,77.5 L127.8,79.3 L126.0,80.6 L125.0,82.5 L124.3,85.1 L124.0,87.5 L124.6,88.9 L126.1,90.5 L126.5,92.5 L127.6,94.3 L127.9,95.9 L129.0,97.5 L128.8,99.3 L127.1,100.8 L127.0,102.5 L125.1,103.5 L122.8,104.4 L120.8,105.0 L118.3,105.2 L116.0,106.2 L113.2,107.0 L111.4,107.4 L109.2,108.0 L107.0,108.8 L105.0,109.5"/>
<path d="M163.2,88.8 L165.0,89.8 L166.9,90.3 L168.2,91.2 L169.7,93.7 L171.5,95.0 L171.1,97.0 L170.6,98.9 L170.8,101.2 L170.0,102.7 L168.7,104.5 L168.2,106.2 L166.8,107.1 L165.1,108.7 L164.0,110.0 L163.5,111.7 L162.4,113.5 L160.8,115.0 L159.4,116.3 L157.8,118.0 L157.0,120.0 L156.1,121.6 L154.9,123.3 L153.2,124.5 L151.9,126.4 L150.2,127.4 L148.2,128.8 L146.5,130.1 L144.9,130.7 L143.2,132.5 L141.8,133.6 L139.8,134.4 L138.2,136.2 L137.0,137.5"/>
<path d="M137.0,137.5 L136.4,139.9 L135.8,142.5 L134.6,144.6 L134.0,146.3 L133.2,148.8"/>
<path d="M64.5,145.0 L66.4,144.0 L67.9,143.1 L70.3,142.5 L72.0,142.0 L74.5,141.2 L76.7,140.3 L79.6,140.4 L82.0,139.5 L84.5,139.4 L86.8,138.8 L89.2,138.1 L92.0,138.0 L94.5,137.6 L97.2,138.1 L99.5,138.0 L100.8,139.6 L101.6,140.6 L103.2,142.0 L105.2,141.3 L106.3,139.9 L108.2,138.8 L109.8,137.1 L112.3,135.4 L114.5,134.5"/>
<path d="M103.2,142.0 L103.0,143.8 L101.9,145.8 L102.0,147.5"/>
<path d="M192.0,116.2 L194.1,115.4 L196.5,114.8 L198.2,113.8 L200.3,112.3 L202.6,111.3 L204.5,110.0 L206.6,109.1 L208.2,107.8 L209.5,106.2 L211.1,104.5 L213.2,103.0 L215.5,104.1 L217.0,106.2 L218.2,107.6 L218.9,109.1 L219.5,111.2 L221.5,112.4 L224.0,113.0"/>
<path d="M192.0,132.5 L193.9,132.1 L196.6,132.2 L198.2,131.2 L200.5,132.0 L202.7,131.5 L204.5,132.5 L206.4,131.6 L208.5,131.7 L210.8,131.2 L212.8,130.7 L214.6,129.5 L217.0,129.5 L219.5,130.1 L221.5,130.9 L224.0,131.2"/>
<path d="M204.5,132.5 L203.9,135.0 L203.6,137.5 L203.2,140.0 L203.2,142.3 L204.4,145.0 L204.5,147.5"/>
<path d="M255.0,83.0 L253.7,84.5 L252.5,86.2 L251.2,87.5 L250.6,89.0 L249.6,90.5 L248.8,92.5 L247.5,95.0 L247.5,97.5 L247.5,99.9 L246.2,102.5 L244.4,104.0 L243.7,105.7 L242.5,107.5 L239.7,107.8 L237.5,108.8 L235.4,109.7 L233.2,109.9 L231.2,110.0 L229.2,111.3 L227.0,111.8 L225.0,112.0 L222.4,111.9 L220.0,113.0"/>
<path d="M281.2,107.0 L281.6,108.9 L280.1,110.4 L280.5,112.5 L280.5,114.8 L279.6,116.6 L280.0,118.8 L278.1,120.2 L277.6,121.9 L276.2,123.8 L275.5,125.5 L275.3,127.1 L273.8,128.8 L272.2,129.4 L271.0,130.7 L270.0,132.5 L268.1,133.6 L266.5,134.7 L265.5,136.2 L264.4,137.0 L262.5,137.5 L261.4,136.5 L260.0,135.0 L258.0,136.2 L258.8,138.3 L259.7,140.4 L260.0,142.5 L259.7,145.1 L260.5,147.5"/>
<path d="M260.0,135.0 L257.9,134.1 L256.2,132.5 L254.7,131.1 L252.5,130.0 L250.6,130.1 L248.8,131.2 L246.3,130.5 L244.0,129.1 L242.0,127.1 L239.9,126.4 L237.5,125.5 L235.2,126.0 L233.7,127.8 L231.3,127.8 L229.2,129.1 L227.4,130.5 L225.0,131.2 L222.9,131.2 L220.4,130.8 L218.8,130.0"/>
<path d="M341.5,198.8 L343.0,200.7 L343.2,203.2 L344.0,205.0 L343.9,207.3 L344.5,209.3 L345.2,211.2 L346.2,213.2 L346.6,214.6 L347.8,216.2 L348.9,217.8 L351.0,219.2 L352.8,220.0 L354.1,218.6 L355.9,217.3 L357.8,216.2 L359.0,215.0 L361.0,213.3 L362.8,212.5 L363.8,211.5 L364.8,209.8 L366.5,208.8 L368.7,208.3 L369.5,206.5 L371.5,206.2 L373.1,205.5 L374.7,204.0 L376.5,202.5 L377.9,201.3 L379.2,200.3 L380.2,198.8 L381.4,196.9 L382.5,195.2 L384.0,193.8 L385.7,192.8 L387.7,191.3 L389.0,190.0 L391.4,189.3 L393.8,189.4 L396.5,188.8 L399.1,188.9 L401.8,188.4 L404.0,187.5"/>
<path d="M366.5,208.8 L367.3,210.1 L369.2,211.1 L370.2,212.5 L372.1,214.2 L372.8,216.2"/>
<path d="M224.0,167.5 L225.8,166.8 L228.1,166.3 L230.2,165.0 L232.5,164.9 L235.2,163.9 L237.8,163.8 L240.5,163.5 L242.6,162.8 L245.2,162.5 L246.0,160.6 L247.2,159.5 L247.8,157.5 L249.9,157.0 L251.9,155.4 L254.0,155.0 L256.0,153.9 L257.9,153.1 L260.2,152.5 L260.5,149.7 L261.5,147.5 L260.9,145.5 L260.0,144.0 L259.0,142.5"/>
<path d="M245.2,162.5 L245.6,164.7 L246.1,166.7 L246.5,168.8 L247.6,171.0 L248.4,172.6 L249.0,175.0 L251.0,175.2 L252.6,176.7 L254.7,176.3 L256.5,177.5"/>
<path d="M224.0,216.2 L226.6,217.4 L229.0,217.5 L231.1,217.6 L233.4,218.6 L235.2,219.5 L237.4,220.1 L239.4,221.0 L241.5,221.2 L242.7,222.7 L245.0,224.0 L246.5,225.0"/>
<path d="M409.0,228.8 L408.2,230.8 L406.7,232.8 L406.5,235.0 L405.6,236.5 L405.3,238.8 L404.7,240.4 L404.0,242.5 L403.5,244.4 L402.1,246.3 L402.4,248.4 L401.5,250.0 L401.5,252.0 L401.4,254.0 L400.4,256.1 L400.2,258.0"/>
<path d="M104.5,140.0 L103.1,141.6 L102.5,142.8 L102.0,145.0 L101.8,147.2 L99.9,149.1 L99.5,151.2 L97.3,152.2 L96.2,153.8 L94.5,155.0 L92.5,156.8 L90.7,157.9 L88.2,158.8 L86.6,160.5 L85.2,162.2 L83.2,163.8 L83.0,165.6 L82.0,167.5 L83.1,169.1 L84.5,171.2"/>
<path d="M84.5,171.2 L83.6,173.6 L81.8,175.0 L80.8,177.5 L79.7,179.4 L79.4,180.7 L78.2,182.5 L77.2,184.8 L77.0,187.6 L77.0,190.0 L77.8,192.1 L77.6,193.7 L79.5,195.7 L79.5,197.5 L79.9,199.7 L79.8,202.7 L80.8,205.0 L80.6,206.9 L81.1,209.0 L81.5,211.2"/>
<path d="M135.8,140.0 L135.1,141.6 L134.0,143.5 L133.9,145.7 L133.2,147.5 L132.1,149.7 L131.2,151.4 L130.8,153.8 L129.1,155.3 L128.5,156.9 L127.0,158.8 L126.5,161.2 L125.8,163.8 L127.2,165.4 L128.5,166.7 L129.5,168.8 L131.3,170.2 L131.9,172.5 L133.2,173.8 L134.0,175.3 L135.3,177.1 L135.8,178.8 L133.9,180.1 L132.0,180.5"/>
<path d="M203.2,140.0 L202.9,142.2 L201.9,143.8 L202.0,146.2 L200.4,148.0 L199.9,149.5 L198.2,151.2 L197.9,153.1 L197.7,155.7 L197.0,157.5 L198.2,159.4 L199.6,160.7 L200.8,162.5 L203.1,163.2 L204.5,165.1 L207.0,166.2 L208.1,168.4 L209.4,169.7 L210.8,171.2 L211.2,173.6 L211.0,175.5 L212.0,177.5 L214.0,178.4 L215.1,179.0 L217.0,180.0 L219.6,179.1 L221.6,178.4 L224.0,177.5"/>
<path d="M170.8,201.2 L172.7,202.4 L174.2,204.0 L175.8,206.2 L177.7,207.9 L179.7,208.5 L182.0,210.0 L183.7,211.1 L186.3,211.2 L188.2,212.5 L190.6,212.4 L193.2,213.1 L195.4,213.3 L197.5,213.3 L200.3,213.9 L202.2,214.0 L204.7,214.5 L207.0,215.0 L209.3,215.7 L212.0,216.2 L211.4,218.2 L211.1,220.3 L210.8,222.5 L210.5,224.3 L209.9,226.5 L209.1,228.3 L208.2,230.0 L208.1,232.4 L207.2,233.8 L207.0,236.2"/>
<path d="M198.2,241.2 L196.0,240.4 L194.1,240.8 L192.0,240.0"/>
<path d="M173.0,252.5 L171.4,254.6 L170.0,256.4 L169.2,258.8 L168.6,260.9 L167.1,261.9 L166.8,263.8 L167.4,266.3 L168.0,268.8"/>
<path d="M426.8,203.8 L427.0,206.0 L429.0,208.0 L429.2,210.0 L429.5,212.1 L430.0,214.0 L431.8,215.6 L431.8,217.5 L432.1,220.3 L433.0,222.8 L433.0,225.0"/>
<path d="M401.8,252.5 L401.5,254.8 L402.9,257.7 L403.0,260.0 L402.9,262.2 L403.8,264.4 L404.2,266.2"/>
<path d="M379.2,258.8 L381.0,260.6 L382.0,262.6 L382.9,264.1 L384.2,266.2 L382.5,267.7 L380.9,268.9 L379.2,270.0"/>
<path d="M381.8,273.8 L383.0,274.5 L384.2,275.0 L382.8,276.7 L382.3,278.1 L381.8,280.0"/>
<path d="M384.2,266.2 L386.7,266.2 L388.5,265.9 L390.6,265.9 L393.0,266.2 L395.0,266.8 L397.3,266.3 L399.3,266.8 L401.8,266.2 L403.8,265.2 L405.9,264.4 L408.1,264.8 L410.5,263.8 L413.1,263.4 L415.6,262.4 L418.0,262.5 L420.6,263.4 L422.6,264.7 L424.2,266.2 L425.0,267.8 L427.0,268.1 L428.0,270.0"/>
<path d="M509.8,270.0 L510.6,268.6 L510.8,266.5 L512.2,265.0 L513.4,263.4 L514.2,262.3 L516.0,261.2 L518.2,260.4 L521.3,260.6 L523.5,260.0 L525.9,259.5 L528.6,258.9 L531.0,258.8 L533.4,258.0 L536.2,257.8 L538.5,258.0"/>
<path d="M477.2,268.8 L479.7,269.0 L481.5,268.8"/>
<path d="M642.2,281.2 L642.8,283.8 L643.4,286.4 L643.5,288.8 L643.7,291.0 L644.0,293.7 L644.8,296.2 L645.0,298.6 L644.5,300.6 L644.1,303.0 L643.5,305.0 L643.4,307.2 L642.6,309.8 L642.2,312.5 L641.7,315.1 L641.6,317.7 L640.5,320.0 L640.2,322.5 L639.2,324.8 L639.0,327.5 L638.4,329.5 L637.2,331.2"/>
<path d="M637.2,331.2 L638.1,333.1 L638.5,335.4 L638.5,337.5 L639.3,339.7 L640.5,341.9 L641.5,343.8 L640.9,345.8 L641.2,347.7 L640.5,350.0 L640.6,351.9 L639.6,354.0 L639.0,356.2 L638.5,358.0"/>
<path d="M702.2,295.5 L701.3,297.3 L700.6,299.4 L699.3,300.7 L698.5,302.5 L696.5,304.0 L694.8,305.5 L693.5,307.5 L692.7,310.0 L691.0,311.7 L689.8,313.8 L689.7,315.8 L688.1,317.6 L687.4,319.4 L687.2,321.2 L686.5,323.4 L685.4,325.1 L685.6,326.7 L684.8,328.8 L684.5,331.4 L683.9,333.7 L683.5,336.2 L684.4,338.7 L685.4,340.5 L685.4,343.2 L687.0,344.9 L687.2,347.5"/>
<path d="M616.0,336.2 L616.2,338.8 L615.8,340.5 L615.1,342.9 L614.8,345.0 L613.0,346.6 L612.4,349.0 L611.0,351.2 L609.3,352.2 L607.3,352.5 L605.2,354.0 L603.5,355.0 L601.5,356.1 L599.8,358.0"/>
<path d="M606.0,353.8 L603.9,354.9 L601.8,356.2 L599.8,357.5 L598.0,357.8 L596.6,359.3 L594.8,360.0"/>
<path d="M594.8,360.0 L596.4,361.5 L597.2,363.8 L599.5,363.5 L601.2,362.3 L603.5,361.2 L605.7,360.6 L608.5,360.0 L609.8,361.2 L611.5,362.0 L613.5,362.5"/>
<path d="M638.0,350.0 L637.8,352.6 L636.3,353.7 L636.0,356.2 L636.7,358.5 L636.3,361.4 L637.2,363.8 L638.5,365.7 L639.0,367.9 L640.5,370.0 L640.0,372.7 L640.5,375.3 L639.8,377.5 L639.7,379.5 L641.0,381.7 L641.5,383.8 L643.6,384.1 L646.4,384.5 L648.5,384.5 L650.9,384.0 L653.2,382.8 L656.0,382.5"/>
<path d="M624.8,386.2 L627.4,386.1 L629.6,386.6 L632.2,387.0 L634.5,385.6 L636.9,386.0 L639.6,384.8 L641.5,383.8"/>
<path d="M668.5,356.2 L667.7,358.3 L665.9,360.7 L664.8,362.5 L663.1,364.1 L661.9,365.6 L661.0,367.5 L660.0,370.0 L660.1,372.8 L659.8,375.0 L659.9,377.7 L659.5,380.0 L658.5,382.5 L657.8,384.2 L657.7,386.5 L657.2,388.8"/>
<path d="M679.8,359.5 L679.1,361.5 L679.3,363.3 L679.2,365.8 L678.5,367.5 L679.2,369.5 L679.7,371.5 L680.1,373.0 L681.0,375.0 L681.9,376.6 L683.6,377.3 L684.8,378.8 L687.0,379.9 L689.8,380.0 L689.4,382.5 L690.5,383.8 L690.5,386.2"/>
<path d="M708.5,353.8 L707.5,356.1 L706.1,357.7 L704.8,360.0 L703.0,360.9 L701.5,362.2 L699.8,363.8 L698.5,365.0 L697.0,366.0 L695.4,367.2 L694.0,369.2 L692.2,370.0 L691.4,371.8 L690.1,373.9 L688.5,375.0 L689.0,377.4 L689.8,380.0"/>
<path d="M728.5,365.0 L726.3,365.4 L724.8,366.1 L723.1,367.1 L721.0,367.5 L718.9,368.9 L716.8,369.9 L714.8,370.0 L712.8,371.5 L710.5,372.5 L708.5,373.8 L707.6,376.0 L706.2,376.9 L704.8,378.8 L704.4,380.6 L704.4,382.7 L703.5,385.0 L702.5,386.9 L701.0,389.2 L699.8,391.2"/>
<path d="M674.8,390.0 L673.8,391.8 L673.0,393.3 L672.7,395.8 L672.2,397.5 L671.2,399.0 L670.4,400.9 L670.9,403.0 L669.8,405.0 L668.5,407.6 L667.8,410.1 L667.5,412.5 L667.2,415.0 L667.4,417.3 L667.2,420.1 L665.8,422.3 L666.0,425.0 L665.9,427.7 L665.6,430.1 L666.0,432.6 L666.0,435.0"/>
<path d="M702.2,402.5 L702.2,404.8 L701.2,407.6 L700.8,409.9 L701.0,412.5 L701.4,415.3 L701.5,417.6 L702.6,420.2 L702.2,422.5 L702.4,424.4 L703.0,427.2 L703.6,428.8 L703.5,431.2"/>
<path d="M602.2,397.5 L602.0,400.1 L601.0,402.6 L601.0,405.0 L600.8,407.4 L600.2,409.9 L600.5,412.5 L600.4,414.5 L601.5,416.8 L601.0,418.8"/>
<path d="M484.8,378.8 L484.7,381.0 L486.0,382.9 L486.0,385.1 L486.0,387.5"/>
<path d="M503.5,382.5 L503.0,384.1 L502.1,386.4 L501.5,388.4 L501.0,390.0 L500.2,391.8 L499.3,394.2 L498.5,396.2"/>
<path d="M551.0,382.5 L551.3,384.9 L550.8,386.7 L549.5,389.1 L549.8,391.2 L549.0,393.4 L548.9,396.1 L548.0,398.2 L547.2,400.0 L547.1,402.4 L545.9,405.0 L546.0,407.5"/>
<path d="M568.5,383.8 L568.3,386.3 L569.2,388.9 L569.8,391.2 L569.9,393.3 L570.6,396.0 L571.6,398.0 L572.2,400.0 L572.2,402.7 L573.1,404.7 L573.7,407.6 L573.5,410.0"/>
</g>
<g stroke="#4682b4" stroke-width="1.8">
<path d="M245.8,260.0 L247.8,261.2 L249.3,261.3 L251.2,262.2 L253.2,262.5 L254.8,263.8 L257.2,264.6 L259.1,264.6 L260.8,266.2 L262.8,267.3 L264.3,269.1 L267.0,270.0 L268.6,271.5 L270.5,272.7 L272.0,275.0 L272.2,276.9 L273.0,278.5 L274.5,280.0 L275.5,281.3 L276.6,282.7 L277.0,285.0 L277.4,287.1 L277.7,288.8 L279.0,290.0 L276.9,291.5 L275.8,293.8 L277.3,295.2 L278.2,296.2 L280.5,296.1 L283.6,295.8 L285.8,295.5 L288.2,296.2 L290.5,296.4 L293.2,296.2 L295.1,295.9 L296.7,294.3 L298.2,294.5 L300.0,296.6 L302.0,297.5 L304.7,297.3 L306.7,297.6 L309.5,298.0 L312.0,299.3 L314.6,299.0 L317.0,300.0 L319.8,299.3 L322.3,299.4 L324.5,299.5 L327.1,300.0 L329.2,300.2 L332.0,301.2 L334.4,300.9 L336.7,301.9 L339.5,302.5 L341.2,303.0 L343.3,303.4 L345.2,304.0 L347.0,305.0 L349.5,305.5 L351.9,305.0 L354.5,306.2 L357.1,306.9 L359.0,308.8"/>
<path d="M320.8,230.0 L321.0,232.2 L322.0,234.3 L322.0,236.2 L323.4,237.2 L324.2,238.9 L325.8,240.0 L327.7,241.1 L329.6,240.6 L332.0,241.2 L334.2,242.0 L337.1,242.0 L339.5,242.5 L341.9,242.0 L343.5,241.5 L345.8,241.2 L346.3,239.3 L348.2,237.5 L350.3,236.5 L352.3,236.1 L354.5,236.2 L356.7,235.2 L358.7,234.6 L360.8,235.0 L362.4,233.3 L362.5,231.4 L363.2,230.0"/>
<path d="M425.0,270.0 L424.6,271.8 L424.4,274.5 L423.8,276.2 L422.8,277.5 L421.4,279.6 L421.2,281.2 L423.8,281.9 L425.2,283.4 L427.5,285.0 L429.4,286.1 L431.1,286.9 L432.5,288.8 L434.3,288.5 L436.2,287.5"/>
<path d="M400.0,291.2 L402.1,291.1 L404.1,291.6 L406.2,292.5 L407.2,294.3 L409.4,296.3 L411.2,297.5 L412.8,298.0 L413.9,300.3 L415.0,301.2 L417.6,300.5 L420.0,300.0"/>
<path d="M437.5,295.0 L438.8,296.2 L439.8,298.0 L441.2,298.8 L443.0,299.4 L444.5,301.7 L446.2,302.5 L448.2,303.7 L449.4,304.2 L451.2,305.0 L451.0,307.2 L450.0,310.0 L448.5,310.9 L447.7,312.3 L446.2,313.8 L445.2,315.6 L446.1,318.2 L445.0,320.0 L444.4,322.1 L444.4,324.7 L444.5,327.5 L444.5,329.8 L443.8,331.2"/>
<path d="M482.5,272.5 L484.3,273.5 L485.4,274.9 L486.2,276.2 L488.7,276.9 L490.0,278.0 L492.5,278.8 L495.0,279.0 L496.7,277.8 L498.8,277.5 L501.2,276.5 L503.5,275.3 L505.0,273.8 L506.9,273.2 L507.7,270.7 L510.0,270.0"/>
<path d="M510.0,293.8 L511.7,295.1 L513.8,295.4 L515.6,296.1 L517.5,297.5 L519.5,298.9 L520.9,300.4 L522.5,301.7 L525.0,302.5 L526.3,304.5 L527.5,305.3 L529.7,306.5 L531.2,307.5 L533.1,309.0 L535.4,308.7 L537.4,309.9 L538.8,311.2 L540.6,312.9 L542.3,314.1 L545.0,315.0 L546.3,316.1 L548.1,318.0 L549.8,318.9 L551.2,320.0 L553.2,320.5 L554.9,321.9 L556.2,323.8 L558.3,325.4 L560.0,326.2 L562.0,325.2 L564.1,325.0 L566.2,323.8 L567.7,322.6 L569.3,321.1 L571.0,319.9 L572.5,318.8 L574.3,317.0 L575.9,315.7 L577.2,313.9 L578.8,312.5 L580.3,311.7 L581.1,309.6 L583.4,308.9 L585.0,307.5 L587.4,305.8 L589.6,305.3 L592.0,305.0"/>
<path d="M72.0,117.0 L74.2,115.8 L76.5,115.5 L78.2,113.8 L80.1,112.6 L82.8,112.7 L84.5,111.2 L87.0,111.3 L89.9,110.3 L92.0,109.5 L94.3,108.6 L96.6,109.6 L98.2,108.8 L100.3,108.4 L102.6,109.9 L105.0,109.5 L105.2,111.9 L105.0,113.9 L104.5,116.2 L103.9,118.2 L102.3,120.4 L102.0,122.5 L103.5,123.4 L105.1,125.0 L105.8,127.0 L107.2,128.6 L109.5,129.5 L110.8,131.2 L112.3,132.6 L115.1,133.2 L117.0,135.0 L119.6,135.3 L121.9,136.0 L124.5,136.2 L126.6,136.1 L128.3,135.1 L130.8,135.5 L132.9,135.8 L135.4,136.5 L137.0,137.5 L138.6,137.7 L139.8,139.6 L142.0,140.0 L143.9,141.4 L145.4,143.3 L147.0,145.0 L148.8,146.0 L151.5,145.9 L153.2,147.5"/>
<path d="M224.0,215.0 L225.4,213.7 L226.3,212.7 L227.8,211.2 L228.2,209.8 L229.6,208.1 L230.2,206.2 L232.4,205.5 L233.7,204.1 L235.2,202.5 L236.8,201.1 L237.8,199.6 L239.0,198.8 L241.1,197.7 L242.4,195.9 L244.0,193.8 L246.3,192.4 L246.9,189.8 L249.0,188.8 L250.0,186.6 L251.6,185.4 L252.8,183.8 L253.6,182.0 L255.3,180.9 L256.5,178.8 L258.9,177.8 L261.5,177.5 L262.6,178.7 L265.0,178.5 L266.5,180.0 L267.1,181.5 L268.9,183.0 L270.2,183.8 L270.7,186.1 L271.5,188.8 L270.2,190.4 L270.2,192.5"/>
<path d="M256.5,222.5 L258.3,223.8 L259.8,223.6 L261.5,225.0 L263.8,224.9 L265.8,226.0 L267.8,226.2 L269.7,226.3 L272.2,225.4 L274.0,225.5 L275.7,226.2 L278.0,226.5 L280.2,227.5 L281.8,228.0 L283.6,228.0 L285.2,229.5"/>
<path d="M305.2,215.0 L305.4,217.2 L305.7,219.2 L306.5,221.2 L307.2,223.0 L308.7,225.2 L310.2,226.2 L311.9,227.3 L314.0,227.5 L315.2,228.8 L317.0,230.3 L318.5,230.2 L320.2,231.2 L320.4,233.9 L321.5,236.2"/>
<path d="M360.2,236.2 L360.0,234.3 L360.7,231.8 L361.5,230.0 L361.8,227.9 L363.6,226.3 L364.0,223.8 L365.0,221.9 L365.2,220.6 L366.5,218.8 L368.1,217.2 L369.5,217.1 L371.5,216.2 L373.9,215.5 L376.1,216.7 L377.8,216.2 L380.0,217.3 L381.8,218.0 L384.0,218.8 L386.0,218.8 L388.3,219.7 L390.2,221.2 L392.2,221.8 L394.4,223.0 L396.5,223.8 L398.8,225.1 L400.8,224.8 L402.8,226.2 L404.3,227.5 L407.4,227.3 L409.0,228.8 L411.1,229.3 L414.2,229.9 L416.0,231.2"/>
<path d="M50.8,167.5 L52.9,168.6 L54.2,170.6 L55.8,172.5 L57.8,173.0 L59.7,171.7 L62.0,172.0 L64.2,170.9 L66.1,171.5 L68.2,171.2 L70.5,171.7 L72.1,172.7 L74.5,172.5 L76.2,173.4 L78.7,173.9 L80.8,173.8 L81.9,172.1 L84.5,171.2 L86.8,172.2 L88.2,173.8 L90.4,174.5 L92.0,175.4 L94.5,176.2 L96.6,177.7 L98.5,178.3 L100.8,178.8 L102.8,179.6 L105.3,179.5 L107.0,180.0 L108.9,179.9 L110.8,180.7 L113.2,181.2 L115.0,181.2 L116.5,183.0 L118.2,183.0 L120.5,182.9 L122.0,183.8"/>
<path d="M138.2,140.0 L140.5,140.4 L142.4,142.7 L144.5,143.8 L146.4,144.7 L148.0,145.9 L150.8,146.2 L152.9,147.5 L155.1,148.3 L157.0,148.8 L159.1,149.2 L160.9,150.3 L163.2,150.0"/>
<path d="M172.0,165.0 L172.9,167.5 L173.2,170.0 L174.8,170.9 L175.5,172.6 L177.0,173.8 L178.9,174.2 L181.5,174.4 L183.2,175.0 L185.8,175.2 L187.9,176.2 L189.5,177.5 L191.6,178.1 L193.8,178.7 L195.8,180.0 L198.2,180.3 L199.9,181.6 L202.0,181.2 L202.7,184.1 L203.2,186.2 L203.4,188.2 L202.4,190.8 L202.0,192.5 L201.7,194.5 L199.8,196.3 L199.5,198.8 L198.4,201.1 L198.2,203.8 L199.0,205.9 L200.5,207.5 L202.0,208.8 L203.6,210.0 L205.9,210.2 L208.2,211.2 L209.9,212.3 L212.8,211.8 L214.5,213.0 L216.8,212.6 L219.2,213.3 L221.3,213.9 L224.0,213.8"/>
<path d="M219.2,212.5 L221.8,212.5 L223.0,213.9 L225.5,213.8 L227.6,213.1 L228.8,210.8 L230.5,210.0"/>
<path d="M408.0,230.0 L410.9,229.7 L413.2,228.7 L415.5,228.0 L418.3,228.0 L420.2,226.1 L423.0,226.2 L425.7,225.4 L428.1,225.9 L430.5,225.0 L431.6,226.1 L432.6,227.7 L434.2,228.8 L436.1,229.8 L437.1,232.5 L439.2,233.8 L440.1,236.3 L441.9,237.5 L443.0,240.0 L442.1,242.3 L440.6,244.2 L440.5,246.2 L440.6,248.3 L439.3,250.3 L438.9,252.0 L438.0,253.8 L437.4,256.1 L434.7,257.7 L434.2,260.0 L432.9,261.9 L430.9,262.9 L429.5,264.0 L428.0,265.0 L427.6,266.9 L424.8,268.0 L424.2,270.0 L423.2,271.8 L422.1,273.7 L421.8,276.2"/>
<path d="M388.0,288.8 L390.8,289.7 L392.8,290.3 L395.5,290.0 L398.0,289.9 L400.9,290.4 L403.0,291.2"/>
<path d="M487.2,243.8 L486.5,246.1 L487.2,247.7 L487.2,250.0 L487.2,252.4 L485.8,254.2 L486.0,256.2 L484.6,258.4 L485.1,260.7 L483.5,262.5 L482.2,264.2 L482.8,266.6 L481.5,268.8 L482.1,270.4 L482.5,272.3 L483.5,273.8"/>
<path d="M504.8,272.5 L506.2,272.0 L507.7,270.7 L509.8,270.0 L510.4,272.3 L512.2,273.8"/>
<path d="M608.0,293.8 L606.3,293.2 L604.2,293.7 L602.2,294.5 L599.7,294.8 L597.0,293.6 L594.8,293.8 L594.6,295.9 L593.3,298.2 L593.0,300.0 L591.7,301.1 L592.0,303.2 L591.0,305.0 L590.4,306.5 L589.2,308.7 L588.5,310.0"/>
<path d="M591.0,323.8 L593.2,324.7 L594.6,326.1 L595.7,328.1 L597.2,328.8 L598.8,331.0 L600.2,332.8 L602.2,333.8 L604.3,334.7 L606.7,335.7 L608.5,337.5 L611.1,336.5 L613.3,336.0 L616.0,336.2 L618.8,336.1 L620.5,334.4 L623.5,334.5 L625.2,333.7 L627.3,333.4 L629.8,332.5 L632.5,332.2 L634.8,332.2 L637.2,331.2 L640.0,331.2 L641.9,330.5 L644.8,330.0 L647.3,329.8 L649.9,330.1 L652.2,329.5 L652.8,331.2 L655.1,331.6 L656.0,333.8 L657.2,336.2 L657.2,338.8 L657.4,341.0 L659.1,343.0 L659.8,345.0 L660.3,347.1 L661.6,349.4 L663.5,351.2 L664.8,353.0 L665.8,354.8 L667.2,356.2 L669.8,356.2 L671.8,356.9 L674.0,356.3 L676.0,357.0 L677.8,355.9 L679.4,355.1 L681.6,354.4 L683.5,353.8 L685.2,351.9 L686.1,349.2 L687.2,347.5 L689.7,347.3 L692.7,347.2 L694.8,346.2 L697.1,346.7 L699.8,346.8 L702.2,347.5 L704.5,347.7 L707.2,348.0 L709.8,348.0 L712.2,347.8 L714.7,347.9 L717.2,347.5 L720.1,346.7 L722.1,346.2 L724.8,346.2 L726.5,344.6 L729.4,344.2 L731.0,342.5 L732.2,340.5 L733.8,338.9 L734.8,337.5"/>
<path d="M606.0,293.8 L604.0,294.4 L601.7,293.2 L599.8,293.8"/>
<path d="M668.5,355.0 L670.4,356.6 L672.8,356.4 L674.8,357.5 L676.4,357.6 L677.9,359.3 L679.8,359.5 L680.8,358.3 L682.7,356.5 L683.5,355.0"/>
<path d="M643.5,402.5 L644.8,401.3 L647.0,400.4 L649.3,400.4 L651.0,398.8 L652.1,396.9 L654.4,396.0 L656.0,393.8 L657.2,391.6 L657.2,388.8 L659.4,388.9 L661.2,387.5 L663.5,388.0 L665.6,389.0 L668.5,388.4 L671.0,388.8 L673.2,389.2 L676.1,389.7 L678.5,390.0 L681.0,389.6 L683.3,388.5 L686.0,388.8 L688.8,388.8 L691.0,389.5 L693.5,389.5 L695.4,389.6 L697.5,390.1 L699.8,391.2 L700.7,393.0 L701.7,395.4 L702.2,397.5 L702.5,399.8 L703.5,401.7 L703.5,403.8 L705.2,405.3 L707.8,406.8 L709.8,407.5 L712.3,407.2 L713.6,406.0 L716.0,405.0 L718.1,403.6 L720.1,404.0 L722.2,402.5 L723.5,401.0 L724.5,398.9 L726.0,397.5 L728.2,397.0 L730.1,398.5 L732.2,398.0 L734.2,396.7 L736.3,396.3 L738.5,396.2 L740.9,396.6 L743.2,396.6 L746.0,395.5"/>
</g></g>
<g fill="none" stroke="#000" stroke-width="2.0" stroke-linejoin="round" stroke-linecap="round">
<path d="M59.0,140.0 L58.6,137.5 L59.5,135.8 L60.5,134.5 L60.8,132.5 L61.5,130.8 L62.9,129.0 L62.6,127.4 L64.5,125.8 L66.2,124.5 L67.1,123.1 L68.2,120.8 L69.4,118.9 L70.2,116.8 L71.5,115.8 L71.7,113.9 L69.3,111.8 L69.5,109.5 L70.2,107.5 L68.6,105.5 L69.0,103.2 L69.6,101.0 L72.0,99.5 L74.2,98.1 L76.5,97.0 L77.9,95.8 L79.9,94.9 L82.0,94.5 L82.7,92.8 L85.1,91.2 L85.8,89.0 L87.1,87.1 L88.2,84.5 L90.9,83.8 L92.0,82.0 L93.3,80.4 L96.0,80.3 L97.5,79.0 L99.5,78.1 L101.1,76.3 L102.0,74.5 L103.5,72.5 L106.1,71.4 L107.0,69.5 L108.9,68.0 L109.9,66.0 L112.5,65.0 L112.0,63.3 L110.0,62.5 L109.5,60.8 L108.5,58.7 L106.8,57.6 L105.8,55.8 L104.4,53.6 L103.3,52.0 L102.0,50.0 L100.8,49.1 L98.3,48.2 L97.5,46.5 L96.7,44.4 L94.8,44.0 L93.1,41.9 L92.0,40.8 L91.1,38.7 L90.2,37.2 L88.2,35.8 L85.3,35.6 L83.2,35.5 L84.1,34.2 L84.8,32.8 L86.8,31.7 L89.0,31.5 L89.7,32.8 L92.0,33.0 L93.0,35.5 L94.5,37.0 L96.6,39.0 L99.0,39.5 L100.5,41.3 L102.5,42.2 L104.5,43.5 L107.0,44.6 L107.8,46.5 L109.7,47.4 L112.2,48.2 L114.5,49.0 L116.2,49.7 L117.9,51.1 L119.5,52.0 L121.2,53.0 L123.3,52.7 L125.0,54.5 L126.6,55.9 L126.7,58.4 L128.2,59.5 L128.7,61.7 L130.5,62.9 L130.8,64.5 L130.8,66.3 L132.4,68.0 L132.0,70.8 L132.7,72.2 L135.1,72.8 L135.8,74.5 L137.5,74.5 L140.1,74.7 L142.0,75.8 L143.3,74.1 L145.8,73.2 L146.8,70.9 L147.0,68.2 L146.1,66.5 L145.8,64.5 L147.0,62.6 L149.5,62.0 L150.8,61.2 L152.8,59.5 L154.5,59.5 L155.6,58.1 L157.3,56.0 L158.2,54.5 L157.9,52.2 L159.5,49.5 L158.0,47.9 L157.2,46.3 L157.0,44.5 L157.8,42.4 L157.4,39.8 L158.2,38.2 L160.3,38.2 L162.0,37.0 L164.4,37.2 L166.3,38.2 L168.2,39.0 L170.1,37.5 L171.4,36.1 L174.6,36.2 L175.8,34.5 L178.2,34.1 L180.3,34.1 L182.0,34.5 L183.4,35.9 L185.2,35.9 L187.0,37.5 L188.9,38.7 L192.3,39.5 L194.5,39.5 L196.0,40.2 L198.5,41.6 L200.0,41.7 L202.0,42.0 L204.0,42.4 L206.5,42.9 L208.2,44.0 L210.0,43.7 L212.5,42.7 L214.5,43.2 L217.1,43.5 L219.5,44.5 L220.5,47.3 L220.8,49.5 L219.5,51.4 L219.5,54.5 L221.2,55.2 L222.1,57.9 L224.0,58.2 L225.5,59.1 L227.0,60.8 L227.1,63.0 L227.8,64.5 L226.4,65.8 L225.8,67.8 L226.0,69.5 L228.3,70.3 L230.0,70.4 L231.5,71.5 L233.6,71.7 L235.1,74.1 L237.8,74.5 L239.8,75.7 L241.6,76.4 L244.0,76.5 L245.7,77.3 L247.0,79.5 L249.0,80.0 L251.2,81.6 L253.4,80.7 L255.2,82.0 L257.0,82.4 L259.3,84.1 L260.2,85.8 L261.2,88.2 L263.1,89.4 L263.5,91.6 L265.2,93.2 L267.0,94.1 L269.5,94.1 L271.5,95.8 L271.4,98.5 L272.8,100.8 L273.9,102.6 L276.6,103.1 L277.8,104.5 L279.1,106.2 L281.4,107.5 L284.0,109.0 L286.4,108.0 L287.8,107.7 L290.2,108.2 L291.8,110.3 L294.5,110.0 L296.5,112.0 L298.8,112.6 L300.9,113.4 L302.6,114.8 L304.0,115.8 L306.2,116.8 L309.0,115.8 L311.5,116.5 L313.9,116.4 L315.5,116.7 L317.8,118.2 L318.1,120.3 L320.1,121.7 L321.5,123.2 L323.0,124.0 L324.7,126.6 L326.5,127.0 L326.8,129.2 L329.5,131.0 L330.2,133.2 L331.2,135.8 L333.5,137.0 L333.4,138.7 L334.0,140.0 L335.6,141.8 L336.5,143.6 L337.5,146.0 L339.4,147.3 L339.6,150.3 L341.8,151.8 L342.7,153.7 L343.2,155.5 L345.0,156.8 L346.7,157.4 L348.8,158.8 L350.0,160.0 L351.2,161.4 L353.5,161.4 L355.0,162.5 L354.8,159.9 L354.2,157.5 L355.3,156.3 L357.0,155.1 L359.2,154.2 L360.8,153.6 L362.7,151.6 L364.8,151.5 L365.1,148.8 L366.0,146.8 L368.3,146.3 L370.0,146.0 L372.1,144.9 L374.2,145.8 L376.8,144.8 L378.7,146.1 L381.8,146.0 L383.7,147.1 L384.7,147.5 L386.8,147.5 L389.0,146.9 L390.8,148.6 L393.2,148.0 L393.3,150.2 L395.0,152.5 L396.5,153.4 L399.4,152.5 L401.0,153.0 L400.7,155.3 L401.5,156.8 L399.4,157.7 L398.5,159.2 L398.8,161.2 L400.0,163.5 L401.0,165.2 L402.0,167.5 L401.3,170.1 L401.5,172.5 L403.3,173.1 L405.2,175.0 L404.0,177.7 L404.5,180.0 L404.1,182.0 L403.2,183.8 L403.5,186.0 L405.2,186.6 L407.0,187.8 L408.8,187.7 L411.2,189.0 L413.5,189.2 L414.8,190.5 L416.8,191.7 L418.5,193.5 L420.2,194.5 L420.4,197.1 L422.5,198.3 L423.5,200.0 L425.0,200.2 L426.8,201.7 L428.5,202.5 L430.9,203.4 L433.6,204.2 L436.0,204.5 L437.9,205.1 L439.1,206.3 L441.0,207.5 L442.8,209.1 L444.1,211.7 L446.0,212.5 L448.0,213.0 L449.4,213.2 L451.0,215.0 L453.4,216.2 L455.7,216.5 L457.2,218.0 L459.3,218.4 L461.8,217.6 L463.5,217.0 L465.2,215.6 L467.2,215.2 L468.5,213.8 L470.9,212.8 L472.4,211.9 L473.5,210.0 L475.6,208.8 L478.5,208.8 L480.8,209.1 L482.1,210.7 L484.8,211.2 L485.4,213.3 L486.7,214.5 L487.2,216.2 L486.9,218.8 L486.2,221.2 L484.8,222.5 L483.0,223.9 L482.4,226.4 L481.0,227.5 L479.8,229.1 L479.6,231.9 L479.8,233.8 L480.1,236.1 L481.1,238.3 L481.5,240.0 L483.0,241.6 L485.0,242.2 L487.2,242.5 L489.1,242.7 L491.2,243.7 L492.2,245.0 L493.7,246.5 L496.3,246.8 L498.5,247.5 L500.3,246.4 L502.8,246.2 L504.8,246.2 L505.7,244.5 L507.6,244.2 L509.8,243.0 L511.9,243.8 L513.5,244.6 L516.0,244.5 L518.2,244.7 L520.4,245.3 L522.2,246.2 L524.0,244.5 L526.0,243.8 L527.9,241.9 L528.5,240.0 L530.4,240.2 L531.5,238.8 L532.3,240.7 L532.4,242.3 L533.5,243.8 L534.3,245.6 L535.6,248.0 L535.5,250.0 L537.7,251.6 L538.5,253.8 L540.5,255.3 L541.9,256.9 L543.5,257.5 L545.3,259.0 L546.0,261.2 L546.6,262.8 L547.6,264.5 L548.5,266.2 L549.4,267.6 L551.1,269.5 L552.2,271.2 L553.4,273.1 L553.5,275.8 L554.8,277.5 L555.4,280.1 L556.0,282.5 L557.9,282.6 L560.1,282.4 L562.2,283.8 L564.3,282.9 L565.9,282.6 L567.2,281.2 L567.7,279.0 L567.1,277.0 L566.0,275.0 L566.3,272.4 L565.3,271.2 L565.5,268.8 L567.2,267.7 L568.5,266.2 L569.3,264.8 L570.8,262.8 L572.2,261.2 L573.7,260.3 L574.8,260.0 L575.3,262.8 L576.0,265.0 L575.9,267.9 L577.2,270.0 L576.8,272.3 L576.1,274.3 L576.0,276.2 L577.9,277.3 L580.2,278.2 L582.2,278.8 L584.9,280.0 L587.4,280.3 L589.8,280.0 L591.4,281.5 L593.4,281.5 L595.5,283.3 L597.2,283.8 L598.7,283.1 L600.9,282.7 L602.2,281.2 L602.2,279.2 L602.3,276.0 L602.2,273.8 L603.3,271.7 L604.8,270.1 L606.0,267.5 L606.8,265.9 L607.2,265.0 L608.7,266.0 L610.5,266.7 L612.2,267.0 L613.5,266.1 L615.6,266.8 L617.2,265.5 L619.4,265.3 L620.5,266.5 L622.2,267.0 L622.9,269.3 L623.5,271.2 L625.6,271.6 L626.9,273.4 L628.5,273.8 L630.9,274.7 L633.0,275.8 L634.8,277.5 L637.0,278.1 L637.6,280.0 L639.8,280.5 L642.4,280.8 L644.1,282.3 L646.0,282.5 L648.5,283.3 L649.1,285.1 L651.0,286.2 L652.5,288.0 L652.9,289.7 L654.8,291.2 L656.4,292.2 L658.5,293.7 L661.0,293.8 L663.5,293.9 L665.0,292.8 L667.2,292.0 L669.4,291.7 L672.2,291.2 L674.1,289.9 L676.0,290.0 L678.0,290.7 L679.7,291.3 L681.0,292.5 L683.1,292.1 L684.8,290.2 L687.2,290.0 L688.8,290.5 L691.0,291.2 L692.9,290.2 L696.0,290.0 L697.9,291.6 L699.3,291.8 L701.0,293.8 L703.8,294.1 L706.0,293.8 L707.9,293.0 L708.5,290.8 L709.8,290.0 L710.5,287.6 L712.2,286.2 L712.8,284.2 L714.7,283.0 L716.0,281.2 L718.4,281.2 L721.0,282.5 L722.8,283.9 L724.9,284.2 L727.2,285.0 L729.1,285.8 L731.8,286.1 L733.5,286.2 L735.0,287.4 L737.9,287.4 L739.8,287.0 L741.9,287.5 L744.2,289.0 L746.0,289.5 L747.9,290.8 L749.0,292.0 L748.0,293.4 L747.2,295.0 L747.2,297.5 L747.5,299.9 L747.3,301.7 L746.0,303.8 L745.8,306.1 L743.6,308.0 L743.5,310.0 L743.2,312.2 L740.7,313.5 L739.8,316.2 L739.5,318.2 L739.0,320.3 L737.2,322.5 L736.5,324.8 L736.0,326.9 L736.0,328.8 L735.7,331.1 L735.8,334.2 L736.0,336.2 L735.4,338.5 L735.9,341.8 L734.8,343.8 L734.2,346.1 L733.7,348.8 L733.5,351.2 L733.0,352.7 L732.5,355.0 L732.1,357.4 L731.0,358.8 L732.0,360.9 L732.4,363.3 L733.5,365.0 L734.6,367.0 L736.7,368.2 L738.0,369.6 L738.5,371.2 L739.3,374.0 L741.5,374.6 L742.2,377.5 L742.5,379.8 L744.3,382.0 L744.8,383.8 L746.2,386.1 L745.9,388.4 L746.5,391.2 L746.5,394.0 L745.5,395.8 L746.0,398.8 L746.3,400.5 L746.2,402.6 L747.2,405.0 L747.5,407.1 L745.6,408.4 L746.0,411.1 L744.8,412.5 L743.5,414.5 L743.9,416.3 L743.3,418.3 L742.2,420.0 L742.0,421.8 L740.4,424.0 L740.3,425.2 L739.8,427.5 L738.3,429.4 L736.3,431.4 L736.0,433.8 L734.5,435.3 L734.1,437.4 L733.5,438.8 L732.8,437.2 L730.6,436.8 L729.8,435.0 L728.8,434.0 L727.0,432.7 L726.0,431.2 L723.7,431.1 L723.0,429.4 L721.0,428.8 L719.5,430.2 L717.2,431.2 L714.6,432.3 L712.2,432.5 L710.4,431.2 L708.5,430.0 L706.2,431.4 L704.6,431.6 L702.2,432.0 L700.3,433.8 L698.5,433.8 L695.6,433.1 L693.5,432.5 L691.1,431.2 L689.1,431.0 L687.2,431.2 L684.3,431.2 L682.2,432.5 L680.3,433.6 L677.6,433.3 L676.0,433.8 L674.2,435.5 L673.5,437.5 L671.1,437.0 L668.5,437.5 L667.1,435.9 L665.1,436.0 L663.5,435.0 L661.7,433.3 L659.4,434.0 L657.2,432.5 L655.7,430.9 L654.6,429.6 L652.2,428.8 L651.4,426.9 L650.4,426.1 L650.5,423.8 L650.4,421.9 L649.3,419.9 L649.8,417.5 L648.6,416.6 L647.2,416.2 L647.3,417.9 L644.9,419.4 L644.8,421.2 L644.3,423.5 L644.0,424.9 L642.2,426.2 L639.7,427.0 L638.0,429.3 L636.0,430.0 L633.6,429.8 L631.9,429.3 L629.8,430.0 L627.1,430.3 L624.8,431.2 L622.3,431.2 L621.0,432.5 L619.4,430.7 L618.4,429.4 L616.0,428.8 L614.2,428.8 L611.7,427.9 L610.3,425.8 L608.0,425.0 L606.5,423.8 L605.1,421.8 L603.8,421.4 L601.8,420.0 L600.0,418.2 L597.4,418.1 L595.5,416.2 L594.0,415.3 L591.2,415.3 L589.2,413.8 L587.0,412.7 L585.1,412.4 L583.0,413.0 L580.8,413.4 L578.8,414.0 L576.8,414.5 L574.4,413.1 L572.4,413.3 L570.5,412.5 L568.1,412.2 L565.4,411.1 L563.0,410.5 L560.5,410.0 L558.6,410.4 L556.8,409.5 L554.1,409.7 L552.6,411.3 L550.5,412.5 L548.6,414.1 L546.6,414.5 L545.5,416.2 L543.7,414.1 L541.8,413.8 L540.6,412.0 L538.2,411.1 L536.8,410.0 L535.6,407.8 L535.1,406.0 L534.2,403.8 L533.8,401.6 L533.2,398.9 L533.0,396.2 L531.2,395.4 L529.9,392.9 L529.2,391.2 L527.0,390.5 L524.2,390.0 L522.0,389.9 L519.9,391.7 L518.0,392.5 L515.8,393.0 L513.7,393.7 L511.8,395.0 L509.5,395.5 L507.1,395.9 L505.5,397.5 L504.0,398.9 L501.2,398.2 L499.2,400.0 L497.2,400.5 L494.7,399.1 L493.0,398.8 L491.0,397.5 L490.4,396.0 L488.0,395.0 L487.2,392.4 L486.4,390.8 L485.5,388.8 L482.5,388.6 L481.0,387.1 L478.0,387.5 L476.0,387.0 L474.3,386.4 L471.8,386.2 L470.1,385.5 L468.4,383.6 L467.3,381.8 L465.5,381.2 L463.9,379.9 L461.1,378.8 L459.2,377.5 L457.4,377.0 L456.6,375.3 L454.2,375.0 L452.7,374.0 L449.7,374.3 L448.0,373.8 L446.0,373.8 L443.6,373.0 L441.4,371.2 L439.8,370.0 L441.0,368.1 L440.4,365.3 L440.7,363.7 L441.0,361.2 L441.8,359.3 L441.5,357.3 L442.9,354.7 L442.2,352.5 L442.0,349.7 L440.2,348.5 L439.8,346.2 L437.8,344.5 L437.1,342.6 L434.8,341.2 L433.0,339.2 L432.3,337.5 L431.0,335.0 L430.0,336.2 L428.5,336.2 L426.2,338.0 L424.8,339.5 L422.5,339.0 L420.3,339.4 L417.9,338.8 L416.0,338.0 L413.7,337.9 L411.0,337.1 L408.5,336.2 L406.6,335.2 L404.5,334.0 L403.5,332.5 L402.0,330.9 L399.8,330.8 L398.5,328.8 L396.9,327.1 L395.2,325.6 L393.5,325.0 L391.7,326.0 L389.8,326.2 L389.0,327.5 L387.9,329.1 L386.0,330.0 L383.6,331.2 L380.9,330.5 L378.5,331.2 L376.9,330.9 L374.8,331.2 L375.7,333.7 L375.5,336.2 L374.2,337.6 L375.2,339.5 L373.5,341.2 L371.4,340.7 L369.8,339.5 L367.9,339.2 L366.2,336.8 L364.8,336.2 L362.4,335.2 L361.0,334.0 L358.5,332.5 L356.6,332.1 L353.9,331.2 L352.2,330.0 L350.7,329.3 L347.7,329.9 L346.0,328.8 L343.7,329.5 L341.4,329.2 L338.5,328.8 L336.8,329.6 L333.9,328.9 L332.2,328.8 L331.6,331.0 L331.1,333.5 L331.0,336.2 L329.8,337.8 L327.9,339.0 L327.2,341.2 L324.6,340.7 L322.2,341.2 L321.5,339.1 L320.4,337.6 L318.5,336.2 L316.9,334.7 L315.1,333.7 L313.5,332.5 L311.7,331.8 L309.9,330.5 L308.3,330.7 L306.0,330.0 L303.8,329.6 L301.0,329.7 L298.5,328.8 L296.3,328.1 L293.4,328.0 L291.0,327.0 L288.9,326.9 L286.7,327.4 L284.4,326.1 L282.2,326.2 L279.7,325.7 L277.7,325.0 L275.5,325.0 L274.4,322.8 L275.4,320.3 L274.8,317.5 L275.0,315.2 L274.3,312.6 L273.0,310.0 L272.9,307.4 L271.3,305.6 L271.0,303.8 L268.3,304.9 L266.1,304.8 L263.5,305.0 L261.0,306.1 L258.4,306.3 L256.0,306.2 L253.5,306.1 L251.2,308.1 L249.2,307.5 L248.0,305.5 L245.7,305.1 L244.2,303.8 L243.1,301.9 L241.2,300.8 L239.2,300.0 L237.2,298.6 L235.7,297.6 L234.2,296.2 L231.8,295.7 L229.5,294.4 L228.0,292.5 L226.1,292.6 L224.2,291.4 L222.5,289.7 L220.5,288.8 L217.8,288.2 L216.5,286.3 L214.2,286.2 L212.7,284.4 L210.4,284.0 L209.2,282.5 L207.6,284.2 L205.5,285.0 L204.7,286.2 L202.3,287.4 L201.8,288.8 L199.6,287.6 L198.1,286.4 L196.8,285.0 L194.8,283.2 L192.3,284.1 L190.5,282.5 L188.5,282.0 L186.6,280.3 L184.2,280.0 L182.3,278.4 L180.5,277.7 L178.0,276.2 L175.8,274.5 L173.4,274.2 L171.8,272.5 L169.8,271.3 L167.4,269.4 L165.5,268.8 L162.9,267.5 L161.8,265.3 L160.5,263.8 L158.3,262.9 L156.8,262.0 L155.5,260.0 L153.2,259.8 L151.8,261.2 L151.7,258.7 L150.5,256.2 L150.0,254.2 L150.1,251.8 L149.2,250.0 L147.4,249.2 L146.1,247.4 L144.8,245.4 L143.0,245.0 L141.3,243.8 L140.2,242.5 L139.2,240.0 L137.3,240.4 L135.0,238.6 L133.0,238.8 L130.8,237.6 L128.0,237.5 L126.1,236.0 L125.8,234.5 L123.6,232.7 L121.2,233.2 L119.5,231.2 L117.3,230.1 L115.6,228.8 L113.2,228.8 L111.5,227.9 L109.0,225.5 L107.0,225.0 L105.2,223.0 L102.9,222.9 L100.8,221.2 L99.2,219.3 L98.4,218.3 L96.2,217.4 L94.5,216.2 L92.1,215.0 L90.6,212.9 L88.2,212.5 L86.4,210.8 L84.5,210.0 L82.9,210.4 L81.5,211.2 L82.0,214.0 L82.2,216.4 L81.7,218.8 L81.5,221.2 L80.7,219.3 L79.5,217.5 L78.1,215.6 L74.5,215.6 L73.2,213.8 L71.2,212.9 L68.9,211.3 L67.0,210.0 L65.6,207.5 L63.1,206.9 L61.5,205.0 L59.9,203.4 L58.6,202.0 L57.0,200.0 L54.9,199.0 L52.3,197.8 L50.8,196.2 L48.7,195.4 L46.0,193.5 L44.0,192.5 L43.8,190.1 L43.1,188.3 L42.0,186.2 L41.7,184.3 L42.5,182.2 L43.2,180.0 L43.7,178.4 L43.8,176.3 L44.7,173.9 L45.8,172.5 L46.5,170.7 L47.4,168.0 L48.2,166.2 L50.2,165.1 L52.0,163.8 L53.3,162.5 L55.2,161.7 L57.0,160.0 L58.1,158.0 L58.2,155.0 L60.0,153.7 L61.4,151.8 L62.5,150.0 L61.3,147.6 L61.5,145.0 L60.1,143.9 L59.7,141.9Z"/>
<path d="M145.8,73.2 L147.9,73.8 L149.7,75.2 L152.0,75.0 L154.6,75.5 L157.1,75.4 L159.5,76.5 L160.5,78.3 L162.0,78.7 L162.5,80.8 L163.6,83.2 L162.6,84.9 L163.2,87.5 L166.2,88.4 L168.2,87.5 L170.5,86.9 L171.7,85.4 L174.5,85.0 L176.6,85.1 L179.3,84.4 L182.0,85.0 L184.4,84.8 L186.7,86.2 L188.7,86.9 L190.8,87.5 L191.2,89.6 L191.6,91.1 L192.0,93.2 L189.9,95.3 L189.3,97.3 L189.0,99.5 L186.8,100.0 L186.5,101.5 L186.0,103.1 L184.9,105.0 L183.8,107.3 L183.6,110.0 L183.9,112.4 L185.5,114.4 L187.3,116.2 L189.2,116.2 L191.3,116.9 L192.4,119.4 L191.8,121.6 L192.8,123.8 L190.7,124.6 L189.9,126.9 L191.8,127.6 L192.4,129.4 L192.1,131.4 L193.0,133.8 L193.5,135.6 L192.4,137.5 L190.4,137.9 L189.9,139.4 L190.0,141.0 L188.6,142.5 L187.5,143.9 L184.9,144.4 L182.9,144.1 L180.5,145.0 L179.7,144.0 L178.6,143.1 L177.4,141.0 L175.3,141.7 L173.6,141.2 L172.3,142.9 L170.5,143.1 L169.5,145.1 L167.4,146.2 L166.4,148.3 L164.2,150.0 L164.2,152.2 L165.5,153.1 L165.9,155.4 L166.0,156.9 L165.5,159.0 L165.2,160.0 L165.8,161.5 L167.1,161.9 L169.5,162.4 L170.2,163.8 L171.4,164.1 L172.1,165.6 L169.8,166.3 L167.8,168.1 L166.4,169.2 L164.0,170.0 L162.9,172.2 L160.9,173.1 L160.3,175.0 L159.0,176.2 L159.5,178.4 L159.6,180.6 L160.2,182.7 L162.1,183.8 L163.5,185.7 L164.6,186.9 L166.1,187.5 L167.1,189.4 L168.0,191.7 L169.6,192.5 L171.1,194.2 L172.1,196.9 L172.5,199.3 L173.4,200.6 L171.5,201.9 L169.4,202.0 L168.4,201.2 L168.8,199.2 L167.8,197.5 L166.9,196.3 L165.9,194.4 L163.7,193.4 L163.4,191.9 L164.0,189.4 L162.8,188.2 L162.8,186.9 L160.7,186.6 L159.6,185.6 L158.2,186.0 L156.5,186.9 L154.9,187.8 L153.4,187.5 L151.5,187.1 L150.2,185.0 L148.4,184.5 L147.1,184.4 L145.6,185.0 L144.0,186.2 L142.5,185.2 L140.2,185.6 L138.4,185.6 L137.1,183.8 L135.8,182.6 L134.0,180.6 L132.6,181.2 L130.9,180.6 L129.7,180.0 L127.8,179.4 L125.6,180.4 L124.0,180.6 L122.0,181.3 L121.5,183.1 L122.7,184.1 L124.0,184.4 L125.4,184.8 L126.5,186.9 L129.3,188.0 L130.2,190.0 L131.6,191.5 L132.8,191.9 L133.6,190.1 L135.2,190.0 L136.7,191.7 L137.8,193.1 L140.2,193.8 L140.9,191.2 L142.5,192.9 L143.6,193.7 L144.0,195.6 L143.9,197.6 L144.6,198.8 L144.5,201.5 L145.2,203.8 L145.8,206.5 L147.1,208.1 L148.7,209.6 L149.6,211.2"/>
<path d="M149.6,211.2 L148.0,213.1 L146.6,214.3 L145.8,217.0 L143.7,218.8 L142.0,220.0 L140.2,221.6 L138.8,223.5 L138.0,225.6 L136.2,227.7 L134.5,228.8 L133.4,231.4 L131.9,233.2 L130.1,234.5 L128.2,236.2"/>
<path d="M149.6,211.2 L151.2,212.8 L151.8,215.1 L153.0,216.2 L155.0,216.9 L156.9,218.0 L158.1,220.2 L160.5,221.2 L162.1,222.4 L164.4,223.4 L165.9,225.6 L168.0,226.2 L170.2,226.6 L172.4,228.4 L173.5,230.7 L175.5,231.2 L177.2,233.1 L179.0,234.6 L181.7,234.8 L183.0,236.2 L185.3,237.1 L187.1,238.0 L189.2,238.8 L189.1,240.8 L188.8,242.6 L188.0,245.0 L190.0,246.9 L191.8,248.4 L194.2,248.8 L196.5,250.2 L198.9,250.7 L200.5,252.5 L202.4,253.5 L205.0,254.5 L206.8,256.2 L208.9,257.1 L210.5,258.8 L211.9,257.3 L212.4,255.0 L214.2,253.8 L216.0,252.8 L218.1,252.1 L220.5,252.0 L223.1,251.2 L225.4,252.9 L228.0,252.0 L230.5,252.6 L231.9,251.4 L234.2,252.5 L236.4,254.0 L238.0,254.3 L240.5,255.0 L242.6,256.0 L243.7,257.8 L245.5,258.0 L246.1,255.3 L247.5,253.8 L246.5,251.5 L245.4,249.4 L245.5,247.5 L245.0,245.2 L243.6,243.4 L243.5,241.2 L243.5,239.1 L242.9,236.9 L243.0,235.0 L243.3,233.0 L243.8,230.5 L245.0,228.8 L245.1,227.0 L246.0,224.9 L247.5,223.8 L249.7,223.2 L251.8,222.5 L253.1,220.6 L255.5,220.0 L256.3,218.8 L257.7,216.5 L259.2,216.2 L258.0,214.8 L258.0,212.5 L256.2,213.6 L254.2,213.8 L252.9,212.9 L253.0,211.2 L254.8,210.0 L255.8,208.8 L258.0,208.8 L258.7,205.8 L259.2,203.8 L258.7,201.9 L258.0,200.0 L258.1,201.2 L259.0,202.5 L259.5,200.0 L262.3,198.5 L262.8,196.2 L263.7,194.2 L265.6,193.5 L266.5,191.2 L268.0,191.9 L269.8,191.9 L271.5,193.0 L273.6,192.9 L275.8,193.1 L277.8,194.5 L280.0,193.4 L281.5,194.2 L284.0,193.8 L286.2,194.5 L289.1,194.2 L291.5,194.5 L293.5,194.7 L295.4,195.5 L297.8,196.2 L299.2,197.6 L301.4,198.4 L304.0,198.8 L306.2,199.6 L308.3,200.3 L310.2,202.5 L312.3,202.2 L314.9,203.2 L316.5,202.5 L319.0,201.6 L321.8,201.8 L324.0,202.5 L326.8,201.7 L328.7,201.8 L331.5,201.2 L333.0,199.6 L335.6,200.4 L337.8,198.8 L338.6,197.2 L339.5,195.0 L340.5,193.8 L341.1,191.6 L343.0,190.0 L343.5,188.5 L344.8,186.5 L345.6,185.0 L346.8,183.5 L348.2,181.7 L349.4,180.9 L350.0,178.5 L349.8,175.8 L351.0,173.5 L352.1,171.6 L351.7,169.0 L352.5,167.5 L352.8,166.0 L353.2,164.2 L355.0,162.5"/>
<path d="M310.2,202.5 L310.3,205.4 L309.0,207.5 L307.3,209.3 L307.0,210.9 L305.2,212.5 L302.9,213.0 L301.1,214.6 L299.0,215.0 L297.2,216.1 L296.2,217.2 L294.0,217.5 L292.3,218.1 L291.6,220.5 L290.2,221.2 L289.0,222.5 L287.6,224.6 L286.5,226.2 L288.0,228.2 L288.8,230.0 L289.0,232.5 L290.5,234.0 L289.8,236.9 L291.5,238.8 L292.6,240.7 L295.0,241.6 L296.5,242.5 L297.7,243.8 L299.8,245.2 L301.5,246.2 L302.9,246.8 L303.5,249.3 L305.2,250.0 L307.4,250.4 L309.6,251.5 L310.7,252.6 L313.0,253.8 L314.3,254.8 L316.5,254.5 L318.1,255.9 L320.5,256.2 L322.0,257.1 L324.4,258.2 L326.1,259.1 L328.0,260.0 L329.8,260.6 L331.3,261.3 L333.4,261.7 L335.5,262.5 L337.7,264.1 L339.7,263.3 L341.8,265.0 L343.2,266.6 L345.8,266.9 L346.8,268.8 L346.3,270.9 L347.9,272.9 L348.0,275.0 L346.3,275.5 L346.0,277.6 L344.2,278.8 L342.1,278.9 L340.3,280.0 L338.0,280.0 L338.2,281.5 L336.8,282.5 L338.7,283.8 L341.4,283.0 L343.0,283.8 L345.3,283.9 L347.8,283.7 L350.5,285.0 L352.5,284.7 L354.6,286.3 L357.2,285.5 L359.2,286.2 L361.0,287.6 L363.4,287.9 L365.9,288.3 L368.0,288.8 L370.6,290.0 L373.3,289.7 L375.5,290.0 L377.9,289.6 L380.6,290.5 L383.0,289.5 L384.1,290.7 L386.0,291.2 L385.2,293.9 L386.0,296.2 L384.3,298.1 L382.8,298.7 L381.0,300.0 L379.6,300.9 L377.3,301.8 L375.8,302.5 L373.5,302.5 L371.0,303.0 L368.3,303.6 L366.0,303.8 L364.1,304.4 L362.2,304.3 L359.8,304.5 L358.3,305.2 L356.0,305.0 L357.1,306.4 L358.9,307.6 L361.0,308.8 L362.6,310.3 L364.8,311.3 L366.0,312.5 L366.3,315.1 L367.2,317.5 L369.0,318.1 L370.0,319.7 L371.0,321.2 L371.3,323.6 L373.5,324.4 L373.5,326.2 L373.3,329.0 L374.8,331.2"/>
<path d="M481.5,240.0 L479.8,240.3 L478.6,241.9 L477.2,243.8 L475.5,244.5 L474.1,246.8 L473.5,248.8 L471.4,250.4 L471.5,252.3 L469.8,253.8 L468.6,255.5 L468.6,257.8 L467.2,260.0 L464.9,260.9 L463.8,261.9 L462.2,263.8 L459.9,264.3 L458.5,266.2 L458.1,268.1 L457.1,269.3 L456.0,271.2 L455.1,273.2 L454.1,275.7 L453.5,277.5 L452.1,278.9 L450.2,280.8 L449.8,282.5 L448.3,284.7 L447.2,286.2 L448.5,288.3 L448.0,291.2 L449.6,293.2 L449.8,295.0 L447.1,294.0 L444.8,293.8 L442.8,292.8 L442.2,290.9 L439.8,290.0 L438.5,288.8 L437.3,290.1 L434.5,290.8 L432.9,291.4 L431.0,292.5 L429.6,293.6 L427.3,294.2 L426.0,296.2 L425.3,298.1 L423.1,299.1 L422.2,301.2 L420.8,302.4 L420.9,304.3 L419.8,306.2 L417.3,305.8 L416.0,306.8 L413.5,307.0 L411.5,307.8 L408.7,308.2 L407.2,309.5 L405.4,310.4 L404.2,313.2 L402.2,313.8 L400.3,314.1 L398.9,316.2 L397.2,317.5 L395.4,317.8 L394.2,320.9 L392.2,321.2 L390.2,321.7 L387.9,321.9 L386.0,323.0 L384.2,322.5 L382.2,323.5 L379.8,322.5 L378.6,324.1 L377.2,325.0 L378.1,327.3 L378.5,330.0"/>
<path d="M431.0,335.0 L431.4,332.5 L432.2,330.0 L434.7,330.3 L437.4,330.7 L439.8,331.2 L442.4,331.1 L444.7,330.8 L447.2,332.0 L449.5,332.2 L452.0,333.6 L454.8,333.8 L456.8,335.4 L459.0,335.4 L460.3,337.2 L462.2,337.5 L464.9,337.3 L467.0,339.0 L469.8,339.5 L472.2,339.5 L475.1,340.3 L477.2,341.2 L478.9,342.2 L480.4,344.2 L481.8,345.0 L483.1,346.1 L483.7,349.1 L485.5,350.0 L487.9,351.2 L490.3,350.8 L493.0,352.0 L495.0,352.3 L497.2,352.5 L498.0,354.1 L500.5,354.5 L502.2,355.7 L504.0,356.5 L505.9,356.9 L508.0,357.0 L510.0,358.2 L512.3,358.0 L514.2,360.0 L516.7,359.9 L519.3,360.6 L521.8,361.2 L523.9,360.7 L525.8,359.3 L528.0,358.8 L530.6,358.9 L532.5,357.8 L534.2,357.0 L536.1,357.0 L538.3,357.3 L540.5,358.8 L543.0,358.8 L544.0,361.0 L546.8,361.2 L548.5,363.0 L549.5,364.0 L551.8,365.0 L552.7,366.6 L554.5,367.6 L555.5,370.0 L557.5,371.5 L559.0,371.7 L560.5,373.8 L562.0,374.0 L564.5,375.0 L565.7,375.4 L568.0,376.2 L570.4,375.7 L573.3,377.5 L575.5,377.5 L577.0,377.0 L579.0,375.8 L580.5,375.0 L583.0,375.0 L584.9,373.5 L586.3,371.9 L588.0,371.2"/>
<path d="M602.2,281.2 L603.2,283.6 L603.0,285.6 L604.8,287.5 L604.7,289.9 L605.2,291.4 L606.0,293.8 L606.3,295.8 L604.4,297.1 L604.2,299.2 L603.5,301.2 L601.5,303.4 L600.9,305.9 L599.8,307.5 L598.6,310.1 L596.3,310.5 L594.7,312.9 L593.5,315.0 L591.7,315.8 L590.7,318.4 L589.7,319.4 L588.5,321.2 L587.6,323.6 L585.7,324.8 L585.1,326.6 L583.5,327.5 L581.5,329.6 L581.8,332.0 L579.8,333.8 L579.6,336.4 L578.2,338.4 L577.2,340.0 L578.0,342.3 L577.3,344.1 L578.5,346.2 L578.4,343.7 L578.2,342.2 L578.0,340.0 L577.6,341.7 L576.8,342.5 L577.8,344.6 L577.5,346.7 L578.0,348.8 L580.5,349.0 L581.7,351.1 L584.2,351.2 L586.4,352.5 L587.3,353.7 L589.2,355.0 L589.5,358.0 L588.0,360.0 L587.0,362.0 L585.5,363.8 L587.7,364.7 L589.2,366.2 L588.2,368.5 L588.0,371.2"/>
<path d="M588.0,371.2 L587.1,373.4 L585.9,374.5 L584.2,376.2 L582.6,377.9 L581.0,379.6 L579.2,381.2 L578.5,382.7 L576.6,383.4 L575.5,385.0 L577.5,386.0 L579.2,386.2 L582.2,386.6 L584.0,385.3 L586.8,385.5 L589.4,385.8 L591.9,384.6 L594.2,385.0 L596.2,387.0 L598.5,386.9 L600.5,388.8 L602.8,390.2 L603.6,391.9 L604.2,393.8 L605.0,395.9 L606.0,398.2 L606.8,400.0 L607.7,401.3 L609.8,402.0 L610.5,403.8 L612.5,404.9 L615.6,404.9 L618.0,405.0 L620.1,404.0 L623.0,404.5 L625.5,403.8 L627.3,403.0 L629.2,401.7 L631.2,402.0 L633.0,401.2 L635.5,400.0 L637.9,400.1 L640.0,398.8 L642.1,399.8 L643.5,402.5 L644.5,404.1 L644.1,406.8 L644.8,408.8 L644.8,411.7 L643.6,414.0 L643.5,416.2 L642.6,418.8 L642.8,421.7 L643.2,424.0 L642.2,426.2"/>
</g>
<rect x="32.8" y="21.9" width="725.1" height="427.90000000000003" fill="none" stroke="#262626" stroke-width="0.8"/>
<path d="M36.40,449.8 v3 M123.24,449.8 v3 M210.08,449.8 v3 M296.92,449.8 v3 M383.76,449.8 v3 M470.60,449.8 v3 M557.44,449.8 v3 M644.28,449.8 v3 M731.12,449.8 v3 M32.8,425.10 h-3 M32.8,375.62 h-3 M32.8,326.15 h-3 M32.8,276.68 h-3 M32.8,227.20 h-3 M32.8,177.73 h-3 M32.8,128.25 h-3 M32.8,78.78 h-3 M32.8,29.30 h-3" stroke="#262626" stroke-width="0.8" fill="none"/>
<text x="31.66" y="462.70" font-size="8.58" textLength="9.48" lengthAdjust="spacingAndGlyphs" fill="#1a1a1a" xml:space="preserve">80</text>
<text x="118.61" y="462.70" font-size="8.58" textLength="9.27" lengthAdjust="spacingAndGlyphs" fill="#1a1a1a" xml:space="preserve">81</text>
<text x="205.48" y="462.70" font-size="8.58" textLength="9.20" lengthAdjust="spacingAndGlyphs" fill="#1a1a1a" xml:space="preserve">82</text>
<text x="292.24" y="462.70" font-size="8.58" textLength="9.37" lengthAdjust="spacingAndGlyphs" fill="#1a1a1a" xml:space="preserve">83</text>
<text x="378.98" y="462.70" font-size="8.58" textLength="9.57" lengthAdjust="spacingAndGlyphs" fill="#1a1a1a" xml:space="preserve">84</text>
<text x="465.95" y="462.70" font-size="8.58" textLength="9.31" lengthAdjust="spacingAndGlyphs" fill="#1a1a1a" xml:space="preserve">85</text>
<text x="552.68" y="462.70" font-size="8.58" textLength="9.51" lengthAdjust="spacingAndGlyphs" fill="#1a1a1a" xml:space="preserve">86</text>
<text x="639.62" y="462.70" font-size="8.58" textLength="9.32" lengthAdjust="spacingAndGlyphs" fill="#1a1a1a" xml:space="preserve">87</text>
<text x="726.39" y="462.70" font-size="8.58" textLength="9.46" lengthAdjust="spacingAndGlyphs" fill="#1a1a1a" xml:space="preserve">88</text>
<text x="8.79" y="428.20" font-size="8.58" textLength="17.21" lengthAdjust="spacingAndGlyphs" fill="#1a1a1a" xml:space="preserve">26.5</text>
<text x="8.62" y="378.73" font-size="8.58" textLength="17.38" lengthAdjust="spacingAndGlyphs" fill="#1a1a1a" xml:space="preserve">27.0</text>
<text x="8.79" y="329.25" font-size="8.58" textLength="17.21" lengthAdjust="spacingAndGlyphs" fill="#1a1a1a" xml:space="preserve">27.5</text>
<text x="8.62" y="279.78" font-size="8.58" textLength="17.38" lengthAdjust="spacingAndGlyphs" fill="#1a1a1a" xml:space="preserve">28.0</text>
<text x="8.79" y="230.30" font-size="8.58" textLength="17.21" lengthAdjust="spacingAndGlyphs" fill="#1a1a1a" xml:space="preserve">28.5</text>
<text x="8.62" y="180.83" font-size="8.58" textLength="17.38" lengthAdjust="spacingAndGlyphs" fill="#1a1a1a" xml:space="preserve">29.0</text>
<text x="8.79" y="131.35" font-size="8.58" textLength="17.21" lengthAdjust="spacingAndGlyphs" fill="#1a1a1a" xml:space="preserve">29.5</text>
<text x="8.64" y="81.88" font-size="8.58" textLength="17.36" lengthAdjust="spacingAndGlyphs" fill="#1a1a1a" xml:space="preserve">30.0</text>
<text x="8.82" y="32.40" font-size="8.58" textLength="17.18" lengthAdjust="spacingAndGlyphs" fill="#1a1a1a" xml:space="preserve">30.5</text>
<text x="297.37" y="17.40" font-size="10.29" textLength="195.26" lengthAdjust="spacingAndGlyphs" fill="#1a1a1a" xml:space="preserve">3 Day Forecast 2026-03-20 Day 2 (Day)</text>
<rect x="36.6" y="360.6" width="234.8" height="85.3" rx="1.6" ry="1.6" fill="#fff" fill-opacity="0.8" stroke="#cccccc" stroke-width="0.8"/>
<text x="139.49" y="370.60" font-size="8.58" textLength="29.03" lengthAdjust="spacingAndGlyphs" fill="#1a1a1a" xml:space="preserve">Legend</text>
<rect x="40" y="376.30" width="16.9" height="9.6" fill="#bfefff"/>
<text x="63.50" y="383.60" font-size="8.58" textLength="179.38" lengthAdjust="spacingAndGlyphs" fill="#1a1a1a" xml:space="preserve">Isolated (one or two places)  0-10 % of area</text>
<rect x="40" y="390.45" width="16.9" height="9.6" fill="#99ccff"/>
<text x="63.50" y="397.75" font-size="8.58" textLength="193.41" lengthAdjust="spacingAndGlyphs" fill="#1a1a1a" xml:space="preserve">Widely Scattered (few places)  10-30 % of area</text>
<rect x="40" y="404.60" width="16.9" height="9.6" fill="#74a9ff"/>
<text x="63.50" y="411.90" font-size="8.58" textLength="170.50" lengthAdjust="spacingAndGlyphs" fill="#1a1a1a" xml:space="preserve">Scattered (some places)  30-50 % of area</text>
<rect x="40" y="418.75" width="16.9" height="9.6" fill="#4d86fb"/>
<text x="63.50" y="426.05" font-size="8.58" textLength="204.30" lengthAdjust="spacingAndGlyphs" fill="#1a1a1a" xml:space="preserve">Fairly Widespread (many places)  50-80 % of area</text>
<rect x="40" y="432.90" width="16.9" height="9.6" fill="#2b5ce2"/>
<text x="63.50" y="440.20" font-size="8.58" textLength="170.24" lengthAdjust="spacingAndGlyphs" fill="#1a1a1a" xml:space="preserve">Widespread (Most places) &gt; 80 % of area</text>
<defs><linearGradient id="cg" x1="0" y1="0" x2="0" y2="1"><stop offset="0" stop-color="#ffffff"/><stop offset="0.55" stop-color="#f4f4f4"/><stop offset="1" stop-color="#c9c9cc"/></linearGradient><g id="tcloud"><circle cx="8.9" cy="6.0" r="4.2"/><circle cx="14.5" cy="6.6" r="2.8"/><circle cx="18.8" cy="10.5" r="2.5"/><circle cx="4.1" cy="10.6" r="2.5"/><rect x="4" y="7.5" width="15" height="5.6"/></g><g id="thunder" transform="translate(-0.45,-0.45) scale(1.04)"><use href="#tcloud" fill="#060b22" stroke="#060b22" stroke-width="3.3" stroke-linejoin="round"/><use href="#tcloud" fill="url(#cg)"/><path d="M10.9,9.9 L12.7,9.9 L11.7,12.7 L13.0,12.7 L10.4,17.4 L10.9,14.1 L9.8,14.1 Z" fill="#f6c01c" stroke="#e8a800" stroke-width="0.3"/><path d="M0,-2.2 C0.6,-1.0 1.4,-0.3 1.4,0.6 A1.4,1.4 0 1 1 -1.4,0.6 C-1.4,-0.3 -0.6,-1.0 0,-2.2Z" transform="translate(4.2,17.6)" fill="#04aef0"/><path d="M0,-2.2 C0.6,-1.0 1.4,-0.3 1.4,0.6 A1.4,1.4 0 1 1 -1.4,0.6 C-1.4,-0.3 -0.6,-1.0 0,-2.2Z" transform="translate(16.3,17.3)" fill="#04aef0"/><path d="M0,-2.2 C0.6,-1.0 1.4,-0.3 1.4,0.6 A1.4,1.4 0 1 1 -1.4,0.6 C-1.4,-0.3 -0.6,-1.0 0,-2.2Z" transform="translate(10.8,21.4)" fill="#04aef0"/></g><g id="snow"><g fill="#01379b"><circle cx="15.1" cy="5.3" r="5.2"/><circle cx="20.2" cy="10.3" r="3.2"/><rect x="12" y="7" width="8.4" height="6.5"/></g><g fill="#01379b" stroke="#6f9cf0" stroke-width="0.7"><circle cx="3.5" cy="10.2" r="3.4"/><circle cx="9.7" cy="6.9" r="4.5"/><circle cx="14.9" cy="9.8" r="3.7"/><rect x="3.5" y="8" width="11.4" height="5.5"/><circle cx="5.2" cy="6.4" r="2.6"/></g><g fill="#01379b"><circle cx="3.5" cy="10.2" r="3.4"/><circle cx="9.7" cy="6.9" r="4.5"/><circle cx="14.9" cy="9.8" r="3.7"/><rect x="3.5" y="8" width="11.4" height="5.5"/><circle cx="5.2" cy="6.4" r="2.6"/></g><g transform="translate(6.4,17.6)"><g stroke="#01379b" stroke-width="1.35" stroke-linecap="round"><path d="M0,-2.2 V2.2 M-1.9,-1.1 L1.9,1.1 M-1.9,1.1 L1.9,-1.1"/></g><circle r="1.0" fill="#01379b"/></g><g transform="translate(14.7,17.3)"><g stroke="#01379b" stroke-width="1.35" stroke-linecap="round"><path d="M0,-2.2 V2.2 M-1.9,-1.1 L1.9,1.1 M-1.9,1.1 L1.9,-1.1"/></g><circle r="1.0" fill="#01379b"/></g><circle cx="10.3" cy="18.2" r="0.9" fill="#e8dfcb"/><circle cx="12.2" cy="15.2" r="0.6" fill="#6c8dd2"/></g></defs>
<use href="#thunder" x="95.80" y="151.20"/>
<use href="#thunder" x="81.60" y="185.35"/>
<use href="#thunder" x="263.30" y="240.95"/>
<use href="#thunder" x="225.00" y="264.35"/>
<use href="#thunder" x="374.50" y="242.35"/>
<use href="#thunder" x="375.00" y="293.60"/>
<use href="#thunder" x="408.25" y="307.35"/>
<use href="#thunder" x="483.90" y="306.75"/>
<use href="#thunder" x="528.00" y="370.35"/>
<use href="#thunder" x="612.60" y="361.25"/>
<use href="#thunder" x="672.00" y="402.45"/>
<use href="#snow" x="122.95" y="93.30"/>
<use href="#snow" x="226.35" y="123.10"/>
<use href="#snow" x="178.35" y="205.25"/>
<use href="#snow" x="266.00" y="195.50"/>
<use href="#snow" x="365.15" y="172.00"/>
<use href="#snow" x="521.15" y="271.25"/>
<use href="#snow" x="659.85" y="303.00"/>
<g transform="translate(628,24) scale(0.125)">
<ellipse cx="281.3" cy="92.2" rx="22.0" ry="8.5" transform="rotate(95.0 281.3 92.2)" fill="#1f6e2b"/>
<ellipse cx="252.5" cy="77.3" rx="22.0" ry="8.5" transform="rotate(140.0 252.5 77.3)" fill="#1f6e2b"/>
<ellipse cx="242.8" cy="46.3" rx="22.0" ry="8.5" transform="rotate(185.0 242.8 46.3)" fill="#1f6e2b"/>
<ellipse cx="312.3" cy="82.5" rx="22.0" ry="8.5" transform="rotate(50.0 312.3 82.5)" fill="#1f6e2b"/>
<ellipse cx="257.7" cy="17.5" rx="22.0" ry="8.5" transform="rotate(230.0 257.7 17.5)" fill="#1f6e2b"/>
<ellipse cx="211.3" cy="122.2" rx="22.0" ry="8.5" transform="rotate(95.0 211.3 122.2)" fill="#1f6e2b"/>
<ellipse cx="182.5" cy="107.3" rx="22.0" ry="8.5" transform="rotate(140.0 182.5 107.3)" fill="#1f6e2b"/>
<ellipse cx="172.8" cy="76.3" rx="22.0" ry="8.5" transform="rotate(185.0 172.8 76.3)" fill="#1f6e2b"/>
<ellipse cx="242.3" cy="112.5" rx="22.0" ry="8.5" transform="rotate(50.0 242.3 112.5)" fill="#1f6e2b"/>
<ellipse cx="187.7" cy="47.5" rx="22.0" ry="8.5" transform="rotate(230.0 187.7 47.5)" fill="#1f6e2b"/>
<ellipse cx="156.3" cy="172.2" rx="22.0" ry="8.5" transform="rotate(95.0 156.3 172.2)" fill="#1f6e2b"/>
<ellipse cx="127.5" cy="157.3" rx="22.0" ry="8.5" transform="rotate(140.0 127.5 157.3)" fill="#1f6e2b"/>
<ellipse cx="117.8" cy="126.3" rx="22.0" ry="8.5" transform="rotate(185.0 117.8 126.3)" fill="#1f6e2b"/>
<ellipse cx="187.3" cy="162.5" rx="22.0" ry="8.5" transform="rotate(50.0 187.3 162.5)" fill="#1f6e2b"/>
<ellipse cx="132.7" cy="97.5" rx="22.0" ry="8.5" transform="rotate(230.0 132.7 97.5)" fill="#1f6e2b"/>
<ellipse cx="116.3" cy="237.2" rx="22.0" ry="8.5" transform="rotate(95.0 116.3 237.2)" fill="#1f6e2b"/>
<ellipse cx="87.5" cy="222.3" rx="22.0" ry="8.5" transform="rotate(140.0 87.5 222.3)" fill="#1f6e2b"/>
<ellipse cx="77.8" cy="191.3" rx="22.0" ry="8.5" transform="rotate(185.0 77.8 191.3)" fill="#1f6e2b"/>
<ellipse cx="147.3" cy="227.5" rx="22.0" ry="8.5" transform="rotate(50.0 147.3 227.5)" fill="#1f6e2b"/>
<ellipse cx="92.7" cy="162.5" rx="22.0" ry="8.5" transform="rotate(230.0 92.7 162.5)" fill="#1f6e2b"/>
<ellipse cx="111.3" cy="312.2" rx="22.0" ry="8.5" transform="rotate(95.0 111.3 312.2)" fill="#1f6e2b"/>
<ellipse cx="82.5" cy="297.3" rx="22.0" ry="8.5" transform="rotate(140.0 82.5 297.3)" fill="#1f6e2b"/>
<ellipse cx="72.8" cy="266.3" rx="22.0" ry="8.5" transform="rotate(185.0 72.8 266.3)" fill="#1f6e2b"/>
<ellipse cx="142.3" cy="302.5" rx="22.0" ry="8.5" transform="rotate(50.0 142.3 302.5)" fill="#1f6e2b"/>
<ellipse cx="87.7" cy="237.5" rx="22.0" ry="8.5" transform="rotate(230.0 87.7 237.5)" fill="#1f6e2b"/>
<ellipse cx="126.3" cy="399.2" rx="22.0" ry="8.5" transform="rotate(95.0 126.3 399.2)" fill="#1f6e2b"/>
<ellipse cx="97.5" cy="384.3" rx="22.0" ry="8.5" transform="rotate(140.0 97.5 384.3)" fill="#1f6e2b"/>
<ellipse cx="87.8" cy="353.3" rx="22.0" ry="8.5" transform="rotate(185.0 87.8 353.3)" fill="#1f6e2b"/>
<ellipse cx="157.3" cy="389.5" rx="22.0" ry="8.5" transform="rotate(50.0 157.3 389.5)" fill="#1f6e2b"/>
<ellipse cx="102.7" cy="324.5" rx="22.0" ry="8.5" transform="rotate(230.0 102.7 324.5)" fill="#1f6e2b"/>
<ellipse cx="201.3" cy="467.2" rx="22.0" ry="8.5" transform="rotate(95.0 201.3 467.2)" fill="#1f6e2b"/>
<ellipse cx="172.5" cy="452.3" rx="22.0" ry="8.5" transform="rotate(140.0 172.5 452.3)" fill="#1f6e2b"/>
<ellipse cx="162.8" cy="421.3" rx="22.0" ry="8.5" transform="rotate(185.0 162.8 421.3)" fill="#1f6e2b"/>
<ellipse cx="232.3" cy="457.5" rx="22.0" ry="8.5" transform="rotate(50.0 232.3 457.5)" fill="#1f6e2b"/>
<ellipse cx="177.7" cy="392.5" rx="22.0" ry="8.5" transform="rotate(230.0 177.7 392.5)" fill="#1f6e2b"/>
<ellipse cx="463.7" cy="92.2" rx="22.0" ry="8.5" transform="rotate(85.0 463.7 92.2)" fill="#1f6e2b"/>
<ellipse cx="492.5" cy="77.3" rx="22.0" ry="8.5" transform="rotate(40.0 492.5 77.3)" fill="#1f6e2b"/>
<ellipse cx="502.2" cy="46.3" rx="22.0" ry="8.5" transform="rotate(-5.0 502.2 46.3)" fill="#1f6e2b"/>
<ellipse cx="432.7" cy="82.5" rx="22.0" ry="8.5" transform="rotate(130.0 432.7 82.5)" fill="#1f6e2b"/>
<ellipse cx="487.3" cy="17.5" rx="22.0" ry="8.5" transform="rotate(-50.0 487.3 17.5)" fill="#1f6e2b"/>
<ellipse cx="538.7" cy="122.2" rx="22.0" ry="8.5" transform="rotate(85.0 538.7 122.2)" fill="#1f6e2b"/>
<ellipse cx="567.5" cy="107.3" rx="22.0" ry="8.5" transform="rotate(40.0 567.5 107.3)" fill="#1f6e2b"/>
<ellipse cx="577.2" cy="76.3" rx="22.0" ry="8.5" transform="rotate(-5.0 577.2 76.3)" fill="#1f6e2b"/>
<ellipse cx="507.7" cy="112.5" rx="22.0" ry="8.5" transform="rotate(130.0 507.7 112.5)" fill="#1f6e2b"/>
<ellipse cx="562.3" cy="47.5" rx="22.0" ry="8.5" transform="rotate(-50.0 562.3 47.5)" fill="#1f6e2b"/>
<ellipse cx="593.7" cy="172.2" rx="22.0" ry="8.5" transform="rotate(85.0 593.7 172.2)" fill="#1f6e2b"/>
<ellipse cx="622.5" cy="157.3" rx="22.0" ry="8.5" transform="rotate(40.0 622.5 157.3)" fill="#1f6e2b"/>
<ellipse cx="632.2" cy="126.3" rx="22.0" ry="8.5" transform="rotate(-5.0 632.2 126.3)" fill="#1f6e2b"/>
<ellipse cx="562.7" cy="162.5" rx="22.0" ry="8.5" transform="rotate(130.0 562.7 162.5)" fill="#1f6e2b"/>
<ellipse cx="617.3" cy="97.5" rx="22.0" ry="8.5" transform="rotate(-50.0 617.3 97.5)" fill="#1f6e2b"/>
<ellipse cx="628.7" cy="232.2" rx="22.0" ry="8.5" transform="rotate(85.0 628.7 232.2)" fill="#1f6e2b"/>
<ellipse cx="657.5" cy="217.3" rx="22.0" ry="8.5" transform="rotate(40.0 657.5 217.3)" fill="#1f6e2b"/>
<ellipse cx="667.2" cy="186.3" rx="22.0" ry="8.5" transform="rotate(-5.0 667.2 186.3)" fill="#1f6e2b"/>
<ellipse cx="597.7" cy="222.5" rx="22.0" ry="8.5" transform="rotate(130.0 597.7 222.5)" fill="#1f6e2b"/>
<ellipse cx="652.3" cy="157.5" rx="22.0" ry="8.5" transform="rotate(-50.0 652.3 157.5)" fill="#1f6e2b"/>
<ellipse cx="638.7" cy="307.2" rx="22.0" ry="8.5" transform="rotate(85.0 638.7 307.2)" fill="#1f6e2b"/>
<ellipse cx="667.5" cy="292.3" rx="22.0" ry="8.5" transform="rotate(40.0 667.5 292.3)" fill="#1f6e2b"/>
<ellipse cx="677.2" cy="261.3" rx="22.0" ry="8.5" transform="rotate(-5.0 677.2 261.3)" fill="#1f6e2b"/>
<ellipse cx="607.7" cy="297.5" rx="22.0" ry="8.5" transform="rotate(130.0 607.7 297.5)" fill="#1f6e2b"/>
<ellipse cx="662.3" cy="232.5" rx="22.0" ry="8.5" transform="rotate(-50.0 662.3 232.5)" fill="#1f6e2b"/>
<ellipse cx="628.7" cy="399.2" rx="22.0" ry="8.5" transform="rotate(85.0 628.7 399.2)" fill="#1f6e2b"/>
<ellipse cx="657.5" cy="384.3" rx="22.0" ry="8.5" transform="rotate(40.0 657.5 384.3)" fill="#1f6e2b"/>
<ellipse cx="667.2" cy="353.3" rx="22.0" ry="8.5" transform="rotate(-5.0 667.2 353.3)" fill="#1f6e2b"/>
<ellipse cx="597.7" cy="389.5" rx="22.0" ry="8.5" transform="rotate(130.0 597.7 389.5)" fill="#1f6e2b"/>
<ellipse cx="652.3" cy="324.5" rx="22.0" ry="8.5" transform="rotate(-50.0 652.3 324.5)" fill="#1f6e2b"/>
<ellipse cx="568.7" cy="457.2" rx="22.0" ry="8.5" transform="rotate(85.0 568.7 457.2)" fill="#1f6e2b"/>
<ellipse cx="597.5" cy="442.3" rx="22.0" ry="8.5" transform="rotate(40.0 597.5 442.3)" fill="#1f6e2b"/>
<ellipse cx="607.2" cy="411.3" rx="22.0" ry="8.5" transform="rotate(-5.0 607.2 411.3)" fill="#1f6e2b"/>
<ellipse cx="537.7" cy="447.5" rx="22.0" ry="8.5" transform="rotate(130.0 537.7 447.5)" fill="#1f6e2b"/>
<ellipse cx="592.3" cy="382.5" rx="22.0" ry="8.5" transform="rotate(-50.0 592.3 382.5)" fill="#1f6e2b"/>
<path d="M155,238 L200,215 L250,190 L300,160 L340,130 L370,118 L400,125 L440,150 L480,175 L530,205 L570,230 L592,242 L588,292 L540,300 L500,305 L470,312 L440,305 L405,290 L375,285 L345,280 L318,292 L290,272 L255,258 L225,262 L200,268 L175,255Z" fill="#2b62c4"/>
<path d="M345,135 L370,120 L395,128 L420,150 L402,152 L385,140 L372,150 L362,142ZM285,262 L298,236 L328,222 L362,208 L352,232 L332,246 L322,240 L312,262 L300,252ZM440,215 L468,198 L482,208 L458,228 L450,220ZM385,250 L398,244 L430,280 L416,286 L400,268ZM470,292 L520,270 L560,254 L586,262 L582,290 L532,298 L492,302ZM225,232 L255,215 L262,224 L238,244ZM395,175 L420,168 L440,182 L425,190 L410,184ZM500,232 L520,226 L540,240 L522,246Z" fill="#ffffff"/>
<path d="M312,294 L345,278 L378,292 L402,308 L450,318 L520,308 L588,292 L606,316 L592,356 L566,384 L542,362 L500,364 L450,374 L400,364 L366,342 L336,316Z" fill="#2f7028"/>
<path d="M168,282 L190,296 L198,342 L226,372 L274,392 L332,402 L388,418 L382,442 L320,434 L260,422 L208,402 L174,366Z" fill="#2f7028"/>
<path d="M160,496 L200,478 L260,486 L330,516 L400,524 L470,511 L530,484 L590,478 L612,501 L600,540 L400,575 L200,545Z" fill="#b9a11e"/>
<g stroke="#e07a1c" stroke-width="10" stroke-linecap="round" fill="none" stroke-dasharray="13 5"><path d="M172,458 Q240,510 352,540"/><path d="M215,490 Q285,535 360,536"/><path d="M590,455 Q520,510 410,540"/><path d="M548,490 Q478,535 404,536"/></g>
<path d="M245,461 L275,446 L330,454 L370,446 L420,444 L470,456 L520,466 L515,481 L470,491 L430,506 L400,518 L365,516 L335,501 L300,488 L255,481Z" fill="#f4cdbb"/>
<path d="M340,462 L400,505 M372,452 L432,490 M330,480 L372,510" stroke="#dcaa94" stroke-width="4" fill="none"/>
<path d="M272,438 L315,441 L310,484 L280,488Z" fill="#d3121b"/>
<path d="M505,455 L530,461 L524,486 L500,480Z" fill="#d3121b"/>
<circle cx="301.1" cy="50.0" r="16.1" fill="#d8131c"/><circle cx="293.1" cy="64.0" r="16.1" fill="#d8131c"/><circle cx="276.9" cy="64.0" r="16.1" fill="#d8131c"/><circle cx="268.9" cy="50.0" r="16.1" fill="#d8131c"/><circle cx="276.9" cy="36.0" r="16.1" fill="#d8131c"/><circle cx="293.1" cy="36.0" r="16.1" fill="#d8131c"/><circle cx="285" cy="50" r="19.0" fill="#e01a22"/><circle cx="297.4" cy="50.0" r="5.2" fill="#a50c14"/><circle cx="288.8" cy="61.7" r="5.2" fill="#a50c14"/><circle cx="275.0" cy="57.3" r="5.2" fill="#a50c14"/><circle cx="275.0" cy="42.7" r="5.2" fill="#a50c14"/><circle cx="288.8" cy="38.3" r="5.2" fill="#a50c14"/><circle cx="281" cy="44" r="5" fill="#f2585c"/><circle cx="291" cy="55" r="4" fill="#b8101a"/>
<circle cx="230.6" cy="86.6" r="16.9" fill="#d8131c"/><circle cx="217.1" cy="96.8" r="16.9" fill="#d8131c"/><circle cx="201.5" cy="90.2" r="16.9" fill="#d8131c"/><circle cx="199.4" cy="73.4" r="16.9" fill="#d8131c"/><circle cx="212.9" cy="63.2" r="16.9" fill="#d8131c"/><circle cx="228.5" cy="69.8" r="16.9" fill="#d8131c"/><circle cx="215" cy="80" r="19.9" fill="#e01a22"/><circle cx="224.9" cy="88.3" r="5.5" fill="#a50c14"/><circle cx="210.1" cy="92.0" r="5.5" fill="#a50c14"/><circle cx="202.1" cy="79.1" r="5.5" fill="#a50c14"/><circle cx="211.9" cy="67.4" r="5.5" fill="#a50c14"/><circle cx="226.0" cy="73.2" r="5.5" fill="#a50c14"/><circle cx="211" cy="74" r="5" fill="#f2585c"/><circle cx="221" cy="85" r="4" fill="#b8101a"/>
<circle cx="172.7" cy="143.0" r="18.2" fill="#d8131c"/><circle cx="155.0" cy="147.5" r="18.2" fill="#d8131c"/><circle cx="142.4" cy="134.5" r="18.2" fill="#d8131c"/><circle cx="147.3" cy="117.0" r="18.2" fill="#d8131c"/><circle cx="165.0" cy="112.5" r="18.2" fill="#d8131c"/><circle cx="177.6" cy="125.5" r="18.2" fill="#d8131c"/><circle cx="160" cy="130" r="21.4" fill="#e01a22"/><circle cx="162.4" cy="143.7" r="5.9" fill="#a50c14"/><circle cx="147.7" cy="136.5" r="5.9" fill="#a50c14"/><circle cx="150.0" cy="120.3" r="5.9" fill="#a50c14"/><circle cx="166.1" cy="117.5" r="5.9" fill="#a50c14"/><circle cx="173.8" cy="132.0" r="5.9" fill="#a50c14"/><circle cx="156" cy="124" r="5" fill="#f2585c"/><circle cx="166" cy="135" r="4" fill="#b8101a"/>
<circle cx="127.2" cy="213.5" r="19.8" fill="#d8131c"/><circle cx="107.6" cy="210.5" r="19.8" fill="#d8131c"/><circle cx="100.4" cy="192.0" r="19.8" fill="#d8131c"/><circle cx="112.8" cy="176.5" r="19.8" fill="#d8131c"/><circle cx="132.4" cy="179.5" r="19.8" fill="#d8131c"/><circle cx="139.6" cy="198.0" r="19.8" fill="#d8131c"/><circle cx="120" cy="195" r="23.4" fill="#e01a22"/><circle cx="112.3" cy="208.1" r="6.4" fill="#a50c14"/><circle cx="105.2" cy="191.8" r="6.4" fill="#a50c14"/><circle cx="118.5" cy="179.9" r="6.4" fill="#a50c14"/><circle cx="133.9" cy="188.9" r="6.4" fill="#a50c14"/><circle cx="130.1" cy="206.3" r="6.4" fill="#a50c14"/><circle cx="116" cy="189" r="5" fill="#f2585c"/><circle cx="126" cy="200" r="4" fill="#b8101a"/>
<circle cx="114.4" cy="291.8" r="21.8" fill="#d8131c"/><circle cx="95.8" cy="280.3" r="21.8" fill="#d8131c"/><circle cx="96.5" cy="258.6" r="21.8" fill="#d8131c"/><circle cx="115.6" cy="248.2" r="21.8" fill="#d8131c"/><circle cx="134.2" cy="259.7" r="21.8" fill="#d8131c"/><circle cx="133.5" cy="281.4" r="21.8" fill="#d8131c"/><circle cx="115" cy="270" r="25.6" fill="#e01a22"/><circle cx="99.3" cy="275.6" r="7.0" fill="#a50c14"/><circle cx="104.9" cy="256.8" r="7.0" fill="#a50c14"/><circle cx="124.4" cy="256.3" r="7.0" fill="#a50c14"/><circle cx="131.0" cy="274.7" r="7.0" fill="#a50c14"/><circle cx="115.5" cy="286.6" r="7.0" fill="#a50c14"/><circle cx="111" cy="264" r="5" fill="#f2585c"/><circle cx="121" cy="275" r="4" fill="#b8101a"/>
<circle cx="120.1" cy="378.6" r="23.8" fill="#d8131c"/><circle cx="106.3" cy="359.2" r="23.8" fill="#d8131c"/><circle cx="116.2" cy="337.6" r="23.8" fill="#d8131c"/><circle cx="139.9" cy="335.4" r="23.8" fill="#d8131c"/><circle cx="153.7" cy="354.8" r="23.8" fill="#d8131c"/><circle cx="143.8" cy="376.4" r="23.8" fill="#d8131c"/><circle cx="130" cy="357" r="28.0" fill="#e01a22"/><circle cx="113.0" cy="350.6" r="7.7" fill="#a50c14"/><circle cx="130.8" cy="338.8" r="7.7" fill="#a50c14"/><circle cx="147.5" cy="352.1" r="7.7" fill="#a50c14"/><circle cx="140.0" cy="372.2" r="7.7" fill="#a50c14"/><circle cx="118.7" cy="371.2" r="7.7" fill="#a50c14"/><circle cx="126" cy="351" r="5" fill="#f2585c"/><circle cx="136" cy="362" r="4" fill="#b8101a"/>
<circle cx="187.5" cy="441.1" r="23.8" fill="#d8131c"/><circle cx="182.3" cy="417.8" r="23.8" fill="#d8131c"/><circle cx="199.9" cy="401.8" r="23.8" fill="#d8131c"/><circle cx="222.5" cy="408.9" r="23.8" fill="#d8131c"/><circle cx="227.7" cy="432.2" r="23.8" fill="#d8131c"/><circle cx="210.1" cy="448.2" r="23.8" fill="#d8131c"/><circle cx="205" cy="425" r="28.0" fill="#e01a22"/><circle cx="196.1" cy="409.1" r="7.7" fill="#a50c14"/><circle cx="217.3" cy="411.6" r="7.7" fill="#a50c14"/><circle cx="221.5" cy="432.6" r="7.7" fill="#a50c14"/><circle cx="202.9" cy="443.1" r="7.7" fill="#a50c14"/><circle cx="187.2" cy="428.6" r="7.7" fill="#a50c14"/><circle cx="201" cy="419" r="5" fill="#f2585c"/><circle cx="211" cy="430" r="4" fill="#b8101a"/>
<circle cx="444.8" cy="55.4" r="16.1" fill="#d8131c"/><circle cx="447.7" cy="39.5" r="16.1" fill="#d8131c"/><circle cx="462.9" cy="34.1" r="16.1" fill="#d8131c"/><circle cx="475.2" cy="44.6" r="16.1" fill="#d8131c"/><circle cx="472.3" cy="60.5" r="16.1" fill="#d8131c"/><circle cx="457.1" cy="65.9" r="16.1" fill="#d8131c"/><circle cx="460" cy="50" r="19.0" fill="#e01a22"/><circle cx="462.3" cy="37.9" r="5.2" fill="#a50c14"/><circle cx="472.3" cy="48.4" r="5.2" fill="#a50c14"/><circle cx="465.3" cy="61.2" r="5.2" fill="#a50c14"/><circle cx="451.0" cy="58.5" r="5.2" fill="#a50c14"/><circle cx="449.2" cy="44.1" r="5.2" fill="#a50c14"/><circle cx="456" cy="44" r="5" fill="#f2585c"/><circle cx="466" cy="55" r="4" fill="#b8101a"/>
<circle cx="518.1" cy="79.0" r="16.9" fill="#d8131c"/><circle cx="527.4" cy="64.9" r="16.9" fill="#d8131c"/><circle cx="544.3" cy="65.9" r="16.9" fill="#d8131c"/><circle cx="551.9" cy="81.0" r="16.9" fill="#d8131c"/><circle cx="542.6" cy="95.1" r="16.9" fill="#d8131c"/><circle cx="525.7" cy="94.1" r="16.9" fill="#d8131c"/><circle cx="535" cy="80" r="19.9" fill="#e01a22"/><circle cx="545.0" cy="71.8" r="5.5" fill="#a50c14"/><circle cx="545.9" cy="87.0" r="5.5" fill="#a50c14"/><circle cx="531.7" cy="92.5" r="5.5" fill="#a50c14"/><circle cx="522.1" cy="80.7" r="5.5" fill="#a50c14"/><circle cx="530.3" cy="67.9" r="5.5" fill="#a50c14"/><circle cx="531" cy="74" r="5" fill="#f2585c"/><circle cx="541" cy="85" r="4" fill="#b8101a"/>
<circle cx="573.7" cy="122.0" r="18.2" fill="#d8131c"/><circle cx="588.8" cy="111.8" r="18.2" fill="#d8131c"/><circle cx="605.1" cy="119.9" r="18.2" fill="#d8131c"/><circle cx="606.3" cy="138.0" r="18.2" fill="#d8131c"/><circle cx="591.2" cy="148.2" r="18.2" fill="#d8131c"/><circle cx="574.9" cy="140.1" r="18.2" fill="#d8131c"/><circle cx="590" cy="130" r="21.4" fill="#e01a22"/><circle cx="603.9" cy="130.2" r="5.9" fill="#a50c14"/><circle cx="594.1" cy="143.3" r="5.9" fill="#a50c14"/><circle cx="578.6" cy="138.0" r="5.9" fill="#a50c14"/><circle cx="578.9" cy="121.6" r="5.9" fill="#a50c14"/><circle cx="594.5" cy="116.8" r="5.9" fill="#a50c14"/><circle cx="586" cy="124" r="5" fill="#f2585c"/><circle cx="596" cy="135" r="4" fill="#b8101a"/>
<circle cx="612.1" cy="175.1" r="19.7" fill="#d8131c"/><circle cx="631.5" cy="171.4" r="19.7" fill="#d8131c"/><circle cx="644.4" cy="186.3" r="19.7" fill="#d8131c"/><circle cx="637.9" cy="204.9" r="19.7" fill="#d8131c"/><circle cx="618.5" cy="208.6" r="19.7" fill="#d8131c"/><circle cx="605.6" cy="193.7" r="19.7" fill="#d8131c"/><circle cx="625" cy="190" r="23.2" fill="#e01a22"/><circle cx="636.4" cy="199.9" r="6.4" fill="#a50c14"/><circle cx="619.1" cy="203.9" r="6.4" fill="#a50c14"/><circle cx="610.0" cy="188.7" r="6.4" fill="#a50c14"/><circle cx="621.6" cy="175.3" r="6.4" fill="#a50c14"/><circle cx="637.9" cy="182.2" r="6.4" fill="#a50c14"/><circle cx="621" cy="184" r="5" fill="#f2585c"/><circle cx="631" cy="195" r="4" fill="#b8101a"/>
<circle cx="628.4" cy="244.4" r="21.6" fill="#d8131c"/><circle cx="649.5" cy="248.9" r="21.6" fill="#d8131c"/><circle cx="656.2" cy="269.5" r="21.6" fill="#d8131c"/><circle cx="641.6" cy="285.6" r="21.6" fill="#d8131c"/><circle cx="620.5" cy="281.1" r="21.6" fill="#d8131c"/><circle cx="613.8" cy="260.5" r="21.6" fill="#d8131c"/><circle cx="635" cy="265" r="25.4" fill="#e01a22"/><circle cx="637.5" cy="281.3" r="7.0" fill="#a50c14"/><circle cx="620.2" cy="272.5" r="7.0" fill="#a50c14"/><circle cx="623.3" cy="253.3" r="7.0" fill="#a50c14"/><circle cx="642.6" cy="250.3" r="7.0" fill="#a50c14"/><circle cx="651.3" cy="267.6" r="7.0" fill="#a50c14"/><circle cx="631" cy="259" r="5" fill="#f2585c"/><circle cx="641" cy="270" r="4" fill="#b8101a"/>
<circle cx="627.1" cy="333.3" r="23.8" fill="#d8131c"/><circle cx="646.6" cy="346.9" r="23.8" fill="#d8131c"/><circle cx="644.5" cy="370.7" r="23.8" fill="#d8131c"/><circle cx="622.9" cy="380.7" r="23.8" fill="#d8131c"/><circle cx="603.4" cy="367.1" r="23.8" fill="#d8131c"/><circle cx="605.5" cy="343.3" r="23.8" fill="#d8131c"/><circle cx="625" cy="357" r="28.0" fill="#e01a22"/><circle cx="615.5" cy="372.6" r="7.7" fill="#a50c14"/><circle cx="607.3" cy="352.8" r="7.7" fill="#a50c14"/><circle cx="623.5" cy="338.9" r="7.7" fill="#a50c14"/><circle cx="641.8" cy="350.0" r="7.7" fill="#a50c14"/><circle cx="636.9" cy="370.8" r="7.7" fill="#a50c14"/><circle cx="621" cy="351" r="5" fill="#f2585c"/><circle cx="631" cy="362" r="4" fill="#b8101a"/>
<circle cx="576.2" cy="394.0" r="23.8" fill="#d8131c"/><circle cx="588.8" cy="414.1" r="23.8" fill="#d8131c"/><circle cx="577.6" cy="435.2" r="23.8" fill="#d8131c"/><circle cx="553.8" cy="436.0" r="23.8" fill="#d8131c"/><circle cx="541.2" cy="415.9" r="23.8" fill="#d8131c"/><circle cx="552.4" cy="394.8" r="23.8" fill="#d8131c"/><circle cx="565" cy="415" r="28.0" fill="#e01a22"/><circle cx="547.8" cy="420.8" r="7.7" fill="#a50c14"/><circle cx="554.1" cy="400.4" r="7.7" fill="#a50c14"/><circle cx="575.5" cy="400.2" r="7.7" fill="#a50c14"/><circle cx="582.4" cy="420.4" r="7.7" fill="#a50c14"/><circle cx="565.2" cy="433.2" r="7.7" fill="#a50c14"/><circle cx="561" cy="409" r="5" fill="#f2585c"/><circle cx="571" cy="420" r="4" fill="#b8101a"/>
<path d="M30,481 L62,444 L100,461 L150,484 L165,514 L122,534 L60,508 L75,491Z" fill="#b80e17"/>
<path d="M740,476 L710,438 L670,456 L622,481 L605,514 L648,536 L712,506 L695,491Z" fill="#b80e17"/>
<path d="M120,511 L150,521 L200,536 L250,549 L300,559 L350,565 L400,567 L450,564 L500,558 L550,548 L600,534 L640,518 L640,561 L600,581 L550,596 L500,608 L450,616 L400,619 L350,616 L300,609 L250,598 L200,584 L150,566 L125,556Z" fill="#d3121b"/>
<path d="M160,548 Q390,640 612,544" stroke="#ffffff" stroke-opacity="0.65" stroke-width="6.5" stroke-dasharray="9 4 5 3" fill="none"/>
<path d="M343,22 L398,55 L364,58 L400,92 L343,94 Z" fill="#d6163a" stroke="#1f3f9e" stroke-width="6" stroke-linejoin="miter"/>
<circle cx="357" cy="48" r="5" fill="#fff"/><circle cx="360" cy="78" r="6.5" fill="#fff"/>
</g>
<g fill="#111" fill-rule="evenodd"><title>जल तथा मौसम विज्ञान विभाग / मौसम पूर्वानुमान महाशाखा</title><path d="M627.2,107.1 627.6,107.7 632.5,107.7 632.5,108.4 629.8,108.4 630.1,108.9 630.5,109.2 631.0,109.6 631.0,109.9 630.6,110.2 630.0,110.2 629.5,109.9 628.2,108.5 627.6,108.7 628.8,110.2 629.5,110.7 630.2,110.9 631.2,110.9 631.8,110.5 631.9,110.1 631.9,109.7 631.4,109.1 632.5,109.1 632.6,111.2 633.4,111.6 633.6,111.6 633.7,107.7 638.8,107.7 638.8,108.4 638.0,108.3 637.2,108.7 636.4,108.3 635.4,108.3 634.7,108.8 634.6,109.6 635.3,110.6 636.7,111.6 637.2,111.2 635.8,110.2 635.6,109.9 635.6,109.2 636.2,108.9 636.8,109.1 636.6,109.7 637.5,110.0 637.9,109.3 638.4,109.0 638.8,108.9 638.8,111.2 639.6,111.6 639.9,111.6 639.9,107.8 640.9,107.7 640.5,107.1ZM642.5,107.1 642.9,107.7 646.4,107.8 646.3,108.3 644.2,108.4 643.7,108.6 643.3,109.1 643.2,109.5 643.4,110.1 644.7,111.6 645.5,111.3 644.3,110.2 644.2,109.5 644.5,109.2 645.0,109.0 646.4,109.1 646.4,111.2 647.4,111.6 647.5,107.7 648.4,107.7 648.6,108.2 649.0,108.5 649.7,108.6 648.8,108.9 649.3,109.8 649.9,110.2 650.8,110.6 651.6,110.6 652.3,110.4 652.3,111.2 653.1,111.6 653.4,111.6 653.3,107.8 654.7,107.7 654.8,111.2 655.8,111.6 655.8,107.8 656.9,107.7 656.5,107.1 651.4,107.1 651.7,107.7 652.4,107.8 652.4,109.4 651.1,110.0 650.3,109.9 649.9,109.5 651.1,109.0 651.5,108.5 651.3,107.7 650.4,107.0 649.4,107.0 648.5,107.6 648.2,107.1ZM650.4,107.6 650.7,107.8 650.6,108.2 649.9,108.6 649.9,108.4 649.5,108.2 649.5,107.9 649.9,107.6ZM704.1,107.1 704.3,107.7 705.1,107.8 705.1,111.2 705.9,111.6 706.2,111.6 706.2,107.7 710.5,107.7 710.5,108.6 709.5,108.2 708.2,108.2 707.3,108.7 707.1,109.5 707.5,110.1 708.5,110.5 709.5,110.6 710.5,110.2 710.5,111.2 711.3,111.6 711.6,111.6 711.7,107.7 712.5,107.7 713.2,108.5 714.1,108.6 714.1,108.3 713.8,108.2 713.6,107.9 713.8,107.6 714.4,107.7 714.6,108.0 714.5,109.2 713.8,109.2 713.6,109.4 714.0,110.0 714.6,110.5 715.2,110.5 715.5,109.9 717.0,109.9 717.0,111.2 717.8,111.6 718.1,111.6 718.1,107.8 719.4,107.7 719.5,111.2 720.3,111.6 720.6,111.6 720.6,107.7 722.4,107.8 722.4,108.9 721.7,109.0 721.6,109.3 721.9,109.8 722.9,110.3 723.2,110.3 723.4,110.2 723.4,107.8 724.8,107.8 724.8,111.2 725.6,111.6 725.8,111.6 725.8,107.8 726.9,107.7 726.5,107.1 715.5,107.1 715.8,107.7 717.1,107.8 717.1,109.2 715.6,109.2 715.4,108.0 715.2,107.6 714.5,107.1 713.4,107.0 712.7,107.5 712.3,107.1 710.3,107.1 710.5,106.8 709.6,106.1 708.4,105.5 707.3,105.2 706.3,105.2 705.4,105.5 704.9,106.1 704.9,106.4 705.1,107.0ZM708.0,109.6 708.1,109.2 708.9,108.8 709.9,108.9 710.5,109.3 709.5,109.8 708.8,110.0 708.3,109.9ZM705.8,106.5 705.9,106.3 706.5,106.0 707.6,106.0 709.0,106.4 710.0,107.0 705.9,107.1ZM680.6,107.1 680.9,107.7 681.7,107.8 681.7,111.2 682.5,111.6 682.7,111.6 682.7,107.7 687.1,107.7 687.1,108.6 686.0,108.2 684.8,108.2 683.8,108.7 683.6,109.4 684.0,110.0 684.4,110.3 685.1,110.5 686.0,110.6 687.1,110.2 687.1,111.2 687.9,111.6 688.1,111.6 688.1,107.8 692.6,107.7 692.7,108.2 689.4,108.2 689.6,108.8 691.0,109.5 691.2,110.2 690.7,110.5 690.1,110.1 689.4,109.9 689.2,110.2 689.2,110.6 689.7,111.0 690.5,111.2 691.4,112.4 692.2,112.1 691.3,111.2 692.0,110.7 692.2,110.0 691.9,109.5 691.2,109.0 692.7,109.0 692.7,111.2 693.5,111.6 693.8,111.6 693.8,107.7 695.2,107.8 695.1,111.2 695.9,111.6 696.2,111.6 696.2,107.7 700.4,107.8 700.3,108.8 697.7,108.8 697.2,109.0 697.2,109.3 697.5,109.8 698.3,110.2 698.7,110.2 698.9,110.1 699.0,109.5 700.3,109.5 700.3,111.2 701.1,111.6 701.4,111.6 701.3,107.8 702.4,107.7 702.1,107.1 686.9,107.1 687.1,106.7 685.3,105.7 683.8,105.2 682.9,105.2 682.1,105.4 681.4,106.1 681.6,107.0ZM684.5,109.5 684.7,109.1 685.4,108.8 686.3,108.9 687.1,109.3 685.4,110.0 684.7,109.9ZM682.3,106.5 682.9,106.0 684.2,106.0 685.3,106.3 686.5,107.0 682.5,107.1 682.3,106.9ZM658.5,107.1 658.8,107.7 659.9,107.8 659.9,109.2 659.4,109.2 659.2,109.4 659.6,110.1 660.1,110.4 660.8,110.5 661.0,109.9 662.7,109.9 662.7,111.2 663.5,111.6 663.7,111.6 663.8,107.7 665.2,107.8 665.1,111.2 665.9,111.6 666.2,111.6 666.2,107.7 668.5,107.8 668.4,108.8 667.5,108.8 667.2,108.9 667.2,109.2 667.6,109.9 669.5,111.6 669.8,111.6 670.3,111.3 668.5,109.9 669.1,109.5 670.3,110.0 671.2,109.9 671.3,111.2 672.3,111.6 672.4,107.7 674.1,107.8 674.1,109.2 673.6,109.2 673.4,109.3 673.4,109.6 674.2,110.4 674.9,110.5 675.2,109.9 676.8,109.9 676.9,111.2 677.6,111.6 677.9,111.6 677.9,107.8 678.9,107.7 678.6,107.1 666.1,107.1 664.7,105.1 664.1,104.8 663.6,104.6 662.4,104.7 662.8,105.4 664.0,105.4 664.8,106.2 663.6,105.7 662.4,105.8 662.4,106.0 662.8,106.6 664.0,106.5 664.4,106.7 664.8,107.1ZM675.2,107.7 676.9,107.8 676.8,109.2 675.1,109.2ZM669.4,107.8 671.2,107.7 671.3,109.0 670.5,109.3 669.5,109.2ZM661.0,107.7 662.7,107.8 662.7,109.2 660.9,109.2Z" stroke="#111" stroke-width="0.32"/><path d="M692.6,118.2 693.0,119.1 694.5,119.2 694.4,121.1 693.5,121.3 693.9,122.2 694.8,122.9 695.6,123.0 695.8,122.8 695.9,122.1 698.0,122.1 698.1,123.9 699.1,124.5 699.4,124.5 699.4,119.2 704.4,119.1 704.4,119.7 702.5,119.7 701.3,120.0 700.8,120.5 700.8,121.2 701.6,122.4 701.3,123.6 701.9,124.5 702.9,125.2 705.4,126.0 705.7,125.3 703.4,124.6 702.6,123.7 702.6,123.2 703.4,122.3 703.9,122.1 704.9,122.2 705.1,122.4 705.1,122.8 704.1,123.4 704.9,124.2 705.6,123.9 706.2,123.2 706.0,122.1 705.4,121.6 704.7,121.3 703.5,121.3 702.2,121.8 701.9,121.1 702.8,120.7 705.6,120.7 705.8,120.5 705.9,119.1 707.6,119.2 707.6,124.0 708.5,124.5 708.9,124.5 709.0,119.1 710.9,119.2 710.8,119.7 711.1,120.4 712.8,121.4 712.0,121.6 711.1,121.3 710.4,121.3 710.2,121.5 710.2,121.9 710.9,122.5 712.0,122.7 714.0,124.5 714.4,124.5 715.0,124.0 713.1,122.4 714.2,121.8 714.9,121.1 715.1,120.2 714.8,119.1 716.0,119.2 716.0,124.0 717.0,124.5 717.3,124.5 717.5,119.1 719.2,119.2 719.2,124.0 720.1,124.5 720.5,124.5 720.6,119.1 723.4,119.2 723.4,120.5 722.1,120.5 721.8,121.0 722.2,121.8 725.0,124.5 725.3,124.5 726.1,124.0 723.7,122.1 724.5,121.3 724.8,119.1 728.9,119.2 728.8,120.2 727.8,119.7 726.4,119.7 725.3,120.4 725.1,121.2 725.5,122.1 726.7,122.8 727.8,122.9 728.7,122.5 728.8,123.9 729.9,124.5 730.2,124.5 730.2,119.2 731.9,119.1 732.0,124.0 733.1,124.5 733.4,124.5 733.4,119.2 734.8,119.1 734.3,118.2ZM726.3,121.7 726.4,121.0 727.1,120.6 728.1,120.7 728.9,121.2 727.2,122.1 726.8,122.1ZM695.9,119.1 698.1,119.2 698.0,121.2 695.8,121.1ZM712.5,119.1 713.3,119.1 713.8,119.6 713.8,120.3 713.5,120.8 712.7,120.5 712.1,119.9 712.1,119.5ZM648.6,118.2 649.0,119.0 649.8,119.2 649.8,121.0 650.3,121.9 651.7,122.7 653.5,122.6 653.5,123.9 654.3,124.4 653.3,124.5 652.8,124.7 652.3,125.3 652.3,125.8 653.0,126.7 654.0,127.1 654.9,127.0 655.7,126.6 654.9,125.8 654.0,126.3 653.5,126.2 653.4,125.7 653.8,125.4 654.6,125.4 655.5,125.7 657.1,127.2 657.9,126.6 656.3,125.3 654.6,124.5 654.9,119.1 660.5,119.1 660.5,120.4 659.2,119.7 657.5,119.7 656.3,120.4 656.0,121.3 656.6,122.3 657.7,123.0 659.2,123.1 660.5,122.6 660.6,123.9 661.5,124.5 661.9,124.5 661.9,119.2 663.7,119.1 663.7,123.9 664.7,124.5 665.1,124.5 665.0,119.2 670.5,119.1 670.5,120.6 667.0,120.6 666.5,120.8 666.4,121.4 666.7,121.9 667.8,122.5 668.6,122.4 668.8,121.6 670.5,121.6 670.5,123.9 671.3,124.3 670.2,124.5 669.5,125.0 670.3,125.7 671.2,125.2 671.6,125.2 671.9,125.4 671.9,125.8 671.0,126.2 670.2,126.1 669.2,125.5 668.0,124.5 667.3,125.0 669.0,126.4 670.7,127.0 671.9,127.0 672.7,126.6 672.9,126.1 672.7,125.2 671.8,124.5 671.9,119.1 674.2,119.2 674.2,121.1 673.5,121.2 673.2,121.5 673.5,122.1 674.0,122.6 674.8,123.0 675.3,123.0 675.5,122.1 677.7,122.1 677.7,123.9 678.8,124.5 679.1,124.5 679.1,119.2 680.9,119.1 680.9,124.0 682.0,124.5 682.3,124.5 682.4,119.1 687.8,119.2 687.7,120.6 684.3,120.6 683.7,120.8 683.6,121.2 684.1,122.1 685.0,122.5 685.8,122.5 686.0,121.6 687.7,121.6 687.7,123.9 688.7,124.5 689.1,124.5 689.0,119.2 690.4,119.1 690.0,118.2 664.8,118.2 664.0,117.3 664.1,116.6 664.5,116.3 665.8,116.5 666.0,116.3 665.6,115.7 665.0,115.4 663.7,115.5 663.0,116.1 662.8,116.9 663.5,118.2ZM657.2,121.8 657.3,121.2 658.1,120.7 659.2,120.7 660.5,121.3 659.6,121.8 658.4,122.2 657.8,122.2ZM675.6,119.1 677.8,119.2 677.7,121.2 675.4,121.1ZM651.2,119.1 653.5,119.2 653.5,121.3 652.5,121.8 651.8,121.9 651.1,121.4ZM619.7,118.2 620.2,119.1 621.7,119.2 621.7,121.1 621.0,121.2 620.7,121.4 621.1,122.3 622.1,123.0 622.8,123.0 623.0,122.1 625.2,122.1 625.2,123.9 626.3,124.5 626.6,124.5 626.7,119.1 628.5,119.2 628.4,123.9 629.5,124.5 629.8,124.5 629.8,119.1 632.8,119.2 632.7,120.5 631.3,120.6 631.1,120.8 631.1,121.3 634.2,124.5 634.7,124.5 635.3,124.0 632.8,122.1 633.6,121.6 634.8,122.2 636.4,122.2 636.5,123.9 637.5,124.5 637.9,124.5 637.9,119.1 640.2,119.2 640.2,121.1 639.5,121.2 639.2,121.5 639.5,122.1 640.0,122.6 640.8,123.0 641.3,123.0 641.5,122.1 643.7,122.1 643.7,123.9 644.8,124.5 645.1,124.5 645.1,119.2 646.5,119.1 646.0,118.2 629.7,118.2 627.8,115.4 627.2,115.1 626.3,114.8 624.9,115.0 625.5,116.0 627.1,116.0 628.1,117.1 626.4,116.3 624.9,116.5 624.8,116.7 625.4,117.5 626.9,117.4 627.6,117.7 628.0,118.2ZM641.6,119.1 643.8,119.2 643.7,121.2 641.4,121.1ZM634.1,119.2 636.4,119.1 636.5,120.9 635.5,121.3 634.0,121.0ZM623.0,119.1 625.3,119.2 625.2,121.2 622.9,121.1Z" stroke="#111" stroke-width="0.12"/></g>
</svg>
</body></html>
